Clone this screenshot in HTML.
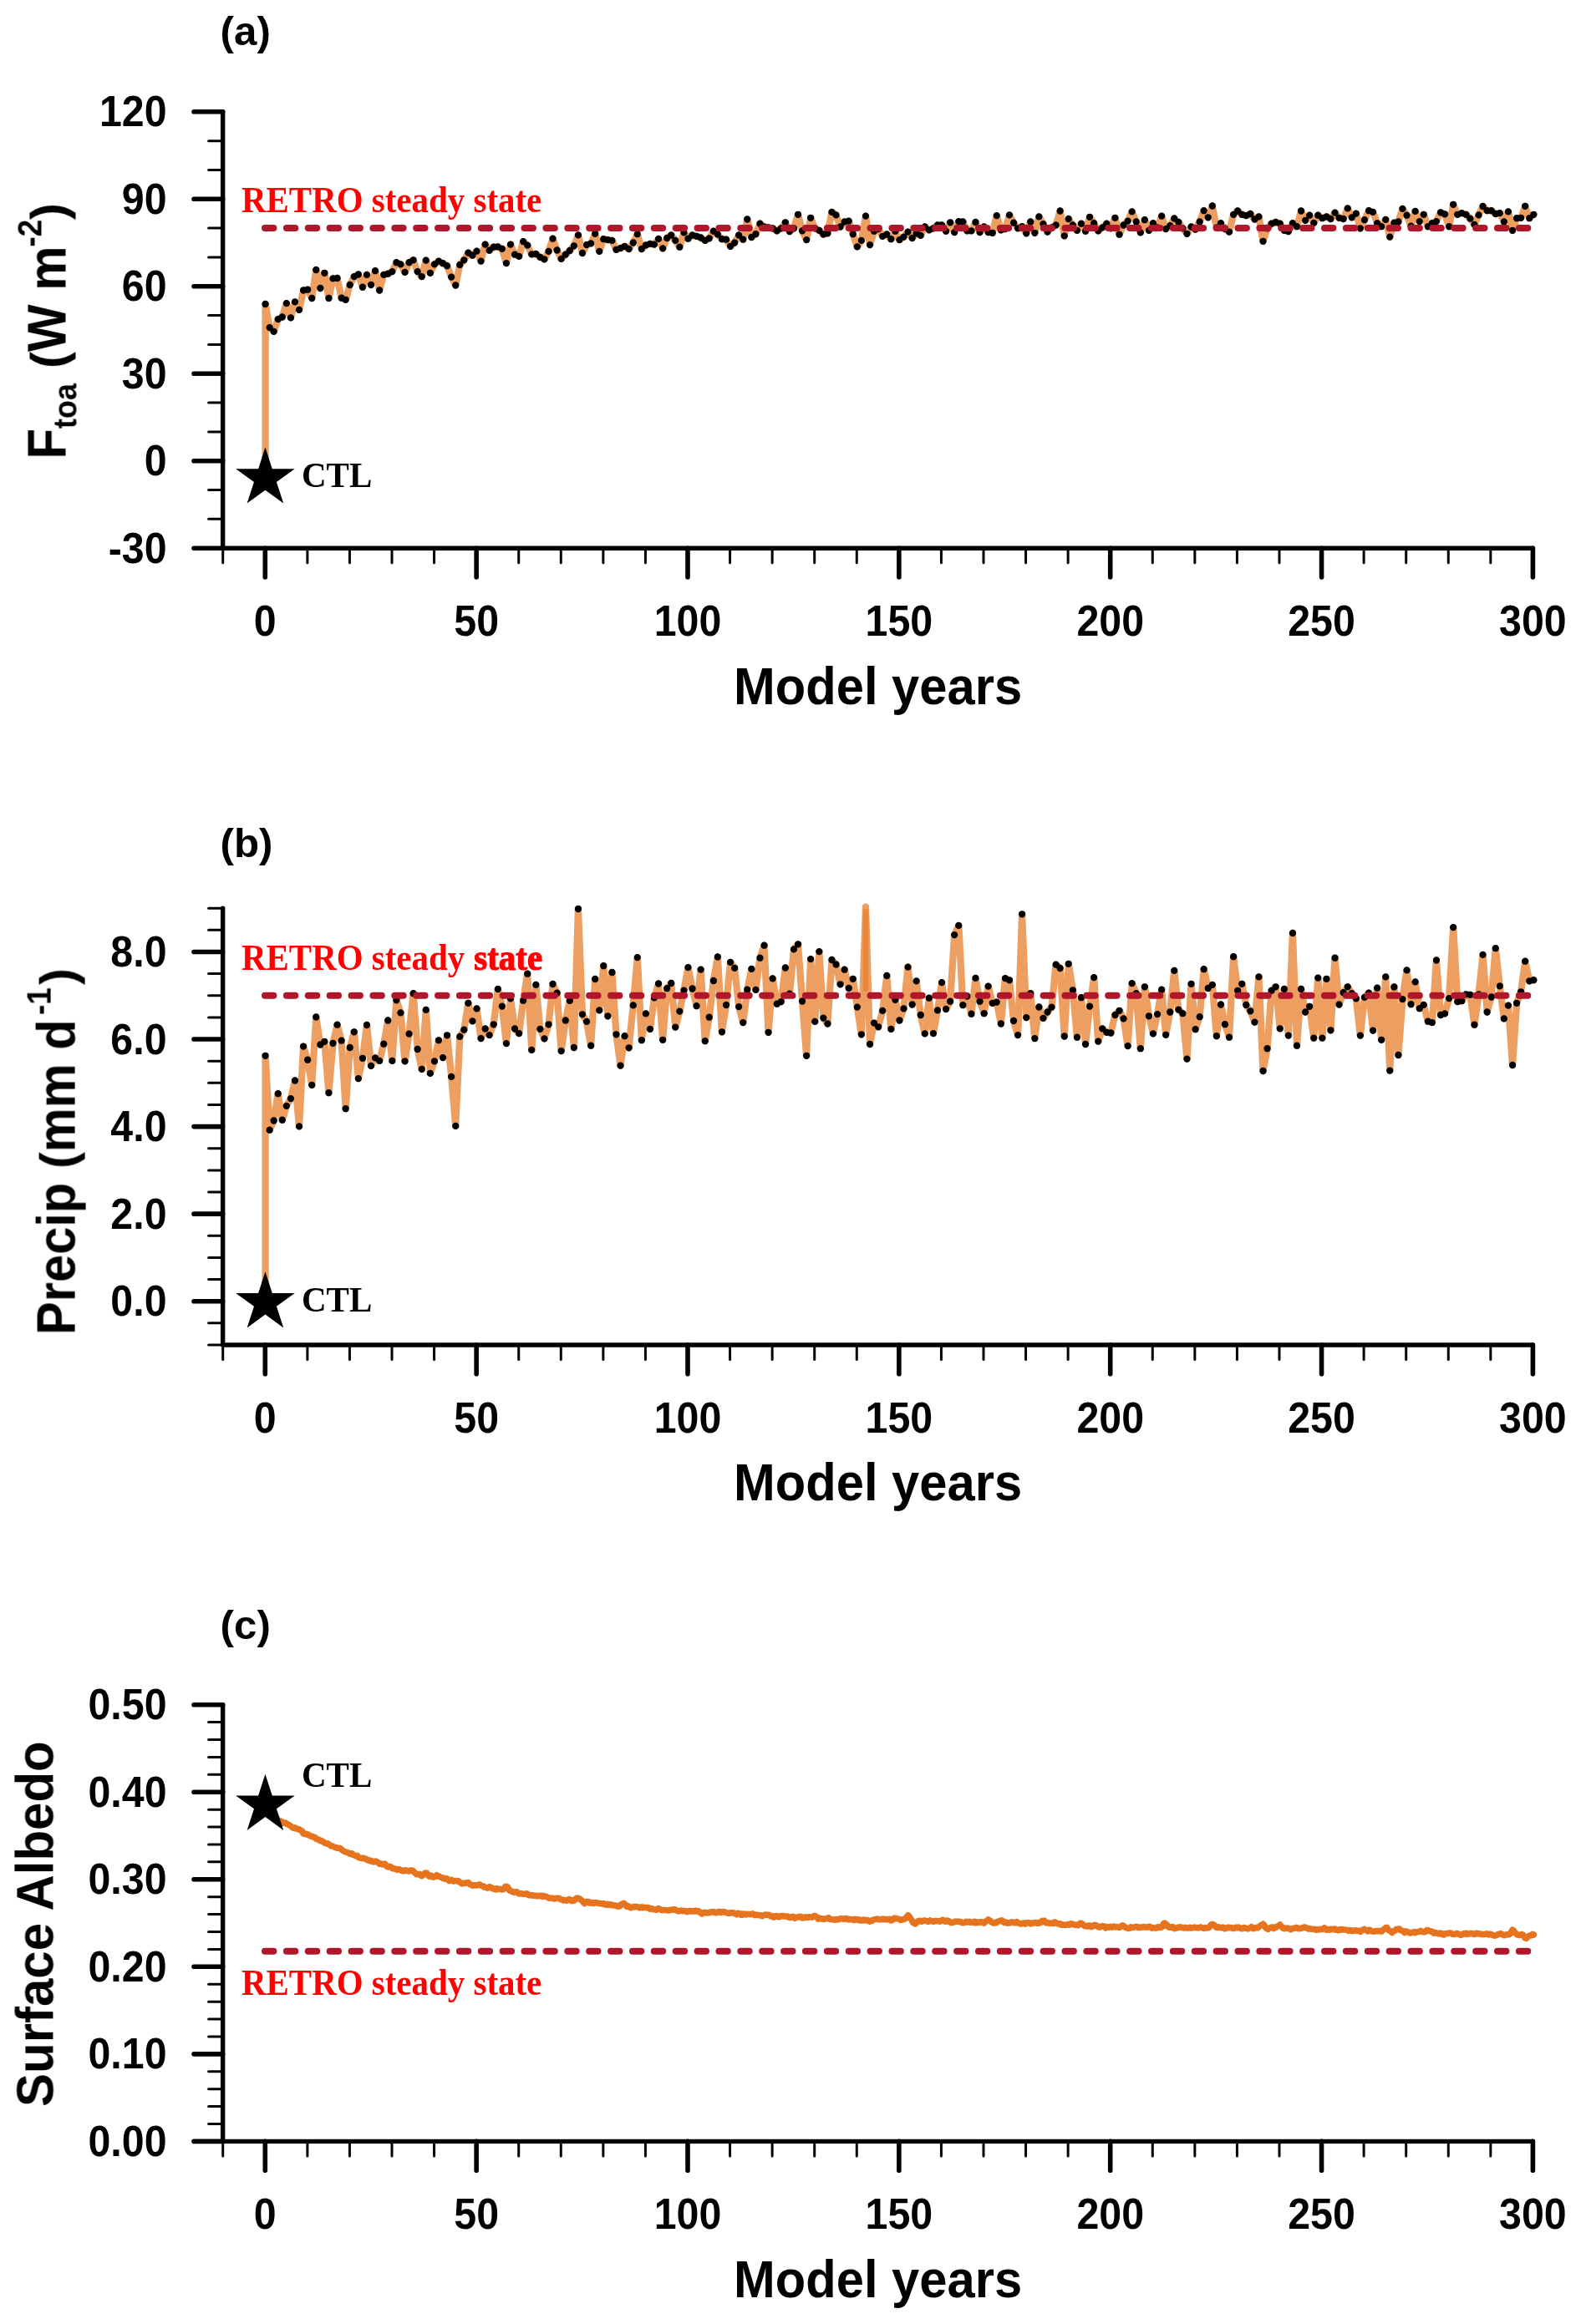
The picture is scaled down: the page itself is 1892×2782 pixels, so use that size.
<!DOCTYPE html>
<html><head><meta charset="utf-8"><title>Figure</title>
<style>html,body{margin:0;padding:0;background:#fff;overflow:hidden}svg{display:block}</style></head>
<body><svg width="1892" height="2782" viewBox="0 0 1892 2782">
<rect width="1892" height="2782" fill="#fff"/>
<g opacity="0.999">
<polyline points="317.6,572.6 317.6,364.0 322.6,392.1 327.7,396.8 332.7,382.1 337.8,379.5 342.8,363.1 347.9,380.4 353.0,361.4 358.0,370.9 363.1,347.5 368.1,346.7 373.2,357.0 378.3,323.0 383.3,345.0 388.4,326.8 393.4,357.0 398.5,333.4 403.6,333.0 408.6,356.7 413.7,358.8 418.7,341.0 423.8,331.1 428.9,328.5 433.9,343.7 439.0,328.9 444.0,341.0 449.1,324.2 454.1,347.5 459.2,328.9 464.3,327.7 469.3,325.1 474.4,314.2 479.4,316.4 484.5,325.9 489.6,314.2 494.6,311.3 499.7,325.1 504.7,331.1 509.8,311.6 514.9,326.8 519.9,316.4 525.0,312.6 530.0,315.2 535.1,318.2 540.2,331.6 545.2,341.5 550.3,317.0 555.3,311.3 560.4,302.6 565.5,305.7 570.5,300.6 575.6,312.6 580.6,292.6 585.7,299.7 590.7,295.7 595.8,295.4 600.9,297.8 605.9,315.1 611.0,292.6 616.0,304.7 621.1,306.9 626.2,289.1 631.2,293.6 636.3,304.4 641.3,304.0 646.4,307.8 651.5,310.4 656.5,300.9 661.6,285.7 666.6,299.5 671.7,309.9 676.8,304.7 681.8,300.0 686.9,294.3 691.9,281.4 697.0,303.0 702.0,293.1 707.1,291.4 712.2,279.8 717.2,300.9 722.3,286.2 727.3,287.1 732.4,287.9 737.5,298.8 742.5,297.1 747.6,294.9 752.6,298.0 757.7,290.5 762.8,280.2 767.8,298.0 772.9,293.5 777.9,291.9 783.0,292.6 788.1,285.9 793.1,297.4 798.2,285.0 803.2,281.5 808.3,287.9 813.4,295.7 818.4,278.4 823.5,285.7 828.5,281.5 833.6,282.8 838.6,284.5 843.7,287.9 848.8,285.3 853.8,276.7 858.9,280.5 863.9,286.2 869.0,286.7 874.1,294.9 879.1,290.5 884.2,281.5 889.2,286.7 894.3,262.5 899.4,284.0 904.4,280.2 909.5,267.7 914.5,271.5 919.6,272.4 924.7,273.3 929.7,276.4 934.8,273.3 939.8,266.3 944.9,277.1 950.0,273.3 955.0,256.8 960.1,276.4 965.1,287.1 970.2,260.8 975.2,273.3 980.3,275.8 985.4,280.5 990.4,279.3 995.5,253.9 1000.5,257.4 1005.6,271.5 1010.7,265.5 1015.7,264.6 1020.8,280.2 1025.8,295.4 1030.9,287.9 1036.0,258.6 1041.0,293.1 1046.1,276.7 1051.1,274.1 1056.2,282.8 1061.3,280.5 1066.3,286.2 1071.4,276.7 1076.4,287.1 1081.5,283.6 1086.5,277.6 1091.6,285.0 1096.7,279.3 1101.7,281.9 1106.8,271.5 1111.8,275.3 1116.9,273.3 1122.0,269.5 1127.0,269.5 1132.1,276.7 1137.1,266.3 1142.2,278.1 1147.3,265.1 1152.3,265.5 1157.4,276.4 1162.4,276.4 1167.5,266.0 1172.6,278.1 1177.6,271.5 1182.7,278.1 1187.7,278.8 1192.8,258.1 1197.9,275.3 1202.9,274.1 1208.0,257.4 1213.0,266.7 1218.1,273.3 1223.1,271.2 1228.2,279.3 1233.3,265.5 1238.3,278.8 1243.4,259.4 1248.4,268.1 1253.5,277.6 1258.6,272.4 1263.6,269.5 1268.7,252.5 1273.7,282.4 1278.8,262.0 1283.9,269.5 1288.9,275.8 1294.0,267.7 1299.0,276.7 1304.1,259.8 1309.2,267.2 1314.2,276.4 1319.3,272.4 1324.3,267.7 1329.4,273.3 1334.4,260.8 1339.5,280.7 1344.6,269.5 1349.6,264.6 1354.7,253.4 1359.7,265.5 1364.8,278.4 1369.9,263.2 1374.9,275.8 1380.0,267.2 1385.0,272.4 1390.1,258.6 1395.2,274.1 1400.2,270.1 1405.3,261.5 1410.3,266.0 1415.4,273.3 1420.5,279.8 1425.5,271.5 1430.6,274.6 1435.6,265.5 1440.7,252.2 1445.8,260.3 1450.8,246.5 1455.9,272.4 1460.9,267.2 1466.0,274.1 1471.0,277.6 1476.1,256.8 1481.2,252.5 1486.2,256.8 1491.3,258.1 1496.3,256.0 1501.4,262.5 1506.5,259.4 1511.5,288.8 1516.6,273.3 1521.6,267.7 1526.7,266.0 1531.8,267.7 1536.8,275.8 1541.9,277.1 1546.9,267.2 1552.0,271.2 1557.1,252.5 1562.1,263.8 1567.2,257.7 1572.2,266.9 1577.3,257.7 1582.3,261.2 1587.4,259.4 1592.5,262.0 1597.5,254.6 1602.6,260.8 1607.6,262.0 1612.7,249.4 1617.8,260.3 1622.8,255.6 1627.9,273.3 1632.9,263.2 1638.0,252.2 1643.1,253.9 1648.1,267.2 1653.2,271.2 1658.2,262.9 1663.3,283.6 1668.4,266.7 1673.4,265.5 1678.5,249.9 1683.5,257.7 1688.6,270.7 1693.7,252.9 1698.7,265.1 1703.8,256.8 1708.8,271.2 1713.9,267.2 1718.9,265.1 1724.0,254.3 1729.1,256.3 1734.1,271.2 1739.2,244.8 1744.2,256.8 1749.3,255.1 1754.4,256.8 1759.4,261.7 1764.5,268.9 1769.5,257.4 1774.6,247.0 1779.7,252.2 1784.7,252.2 1789.8,256.0 1794.8,255.1 1799.9,265.5 1805.0,253.4 1810.0,275.8 1815.1,261.2 1820.1,260.8 1825.2,246.8 1830.3,261.2 1835.3,256.8" fill="none" stroke="#ed9f61" stroke-width="8.3" stroke-linejoin="round" stroke-linecap="round"/>
<path d="M313.4,364.0a4.15,4.15 0 1,0 8.3,0a4.15,4.15 0 1,0 -8.3,0M318.5,392.1a4.15,4.15 0 1,0 8.3,0a4.15,4.15 0 1,0 -8.3,0M323.5,396.8a4.15,4.15 0 1,0 8.3,0a4.15,4.15 0 1,0 -8.3,0M328.6,382.1a4.15,4.15 0 1,0 8.3,0a4.15,4.15 0 1,0 -8.3,0M333.6,379.5a4.15,4.15 0 1,0 8.3,0a4.15,4.15 0 1,0 -8.3,0M338.7,363.1a4.15,4.15 0 1,0 8.3,0a4.15,4.15 0 1,0 -8.3,0M343.8,380.4a4.15,4.15 0 1,0 8.3,0a4.15,4.15 0 1,0 -8.3,0M348.8,361.4a4.15,4.15 0 1,0 8.3,0a4.15,4.15 0 1,0 -8.3,0M353.9,370.9a4.15,4.15 0 1,0 8.3,0a4.15,4.15 0 1,0 -8.3,0M358.9,347.5a4.15,4.15 0 1,0 8.3,0a4.15,4.15 0 1,0 -8.3,0M364.0,346.7a4.15,4.15 0 1,0 8.3,0a4.15,4.15 0 1,0 -8.3,0M369.1,357.0a4.15,4.15 0 1,0 8.3,0a4.15,4.15 0 1,0 -8.3,0M374.1,323.0a4.15,4.15 0 1,0 8.3,0a4.15,4.15 0 1,0 -8.3,0M379.2,345.0a4.15,4.15 0 1,0 8.3,0a4.15,4.15 0 1,0 -8.3,0M384.2,326.8a4.15,4.15 0 1,0 8.3,0a4.15,4.15 0 1,0 -8.3,0M389.3,357.0a4.15,4.15 0 1,0 8.3,0a4.15,4.15 0 1,0 -8.3,0M394.3,333.4a4.15,4.15 0 1,0 8.3,0a4.15,4.15 0 1,0 -8.3,0M399.4,333.0a4.15,4.15 0 1,0 8.3,0a4.15,4.15 0 1,0 -8.3,0M404.5,356.7a4.15,4.15 0 1,0 8.3,0a4.15,4.15 0 1,0 -8.3,0M409.5,358.8a4.15,4.15 0 1,0 8.3,0a4.15,4.15 0 1,0 -8.3,0M414.6,341.0a4.15,4.15 0 1,0 8.3,0a4.15,4.15 0 1,0 -8.3,0M419.6,331.1a4.15,4.15 0 1,0 8.3,0a4.15,4.15 0 1,0 -8.3,0M424.7,328.5a4.15,4.15 0 1,0 8.3,0a4.15,4.15 0 1,0 -8.3,0M429.8,343.7a4.15,4.15 0 1,0 8.3,0a4.15,4.15 0 1,0 -8.3,0M434.8,328.9a4.15,4.15 0 1,0 8.3,0a4.15,4.15 0 1,0 -8.3,0M439.9,341.0a4.15,4.15 0 1,0 8.3,0a4.15,4.15 0 1,0 -8.3,0M444.9,324.2a4.15,4.15 0 1,0 8.3,0a4.15,4.15 0 1,0 -8.3,0M450.0,347.5a4.15,4.15 0 1,0 8.3,0a4.15,4.15 0 1,0 -8.3,0M455.1,328.9a4.15,4.15 0 1,0 8.3,0a4.15,4.15 0 1,0 -8.3,0M460.1,327.7a4.15,4.15 0 1,0 8.3,0a4.15,4.15 0 1,0 -8.3,0M465.2,325.1a4.15,4.15 0 1,0 8.3,0a4.15,4.15 0 1,0 -8.3,0M470.2,314.2a4.15,4.15 0 1,0 8.3,0a4.15,4.15 0 1,0 -8.3,0M475.3,316.4a4.15,4.15 0 1,0 8.3,0a4.15,4.15 0 1,0 -8.3,0M480.4,325.9a4.15,4.15 0 1,0 8.3,0a4.15,4.15 0 1,0 -8.3,0M485.4,314.2a4.15,4.15 0 1,0 8.3,0a4.15,4.15 0 1,0 -8.3,0M490.5,311.3a4.15,4.15 0 1,0 8.3,0a4.15,4.15 0 1,0 -8.3,0M495.5,325.1a4.15,4.15 0 1,0 8.3,0a4.15,4.15 0 1,0 -8.3,0M500.6,331.1a4.15,4.15 0 1,0 8.3,0a4.15,4.15 0 1,0 -8.3,0M505.6,311.6a4.15,4.15 0 1,0 8.3,0a4.15,4.15 0 1,0 -8.3,0M510.7,326.8a4.15,4.15 0 1,0 8.3,0a4.15,4.15 0 1,0 -8.3,0M515.8,316.4a4.15,4.15 0 1,0 8.3,0a4.15,4.15 0 1,0 -8.3,0M520.8,312.6a4.15,4.15 0 1,0 8.3,0a4.15,4.15 0 1,0 -8.3,0M525.9,315.2a4.15,4.15 0 1,0 8.3,0a4.15,4.15 0 1,0 -8.3,0M530.9,318.2a4.15,4.15 0 1,0 8.3,0a4.15,4.15 0 1,0 -8.3,0M536.0,331.6a4.15,4.15 0 1,0 8.3,0a4.15,4.15 0 1,0 -8.3,0M541.1,341.5a4.15,4.15 0 1,0 8.3,0a4.15,4.15 0 1,0 -8.3,0M546.1,317.0a4.15,4.15 0 1,0 8.3,0a4.15,4.15 0 1,0 -8.3,0M551.2,311.3a4.15,4.15 0 1,0 8.3,0a4.15,4.15 0 1,0 -8.3,0M556.2,302.6a4.15,4.15 0 1,0 8.3,0a4.15,4.15 0 1,0 -8.3,0M561.3,305.7a4.15,4.15 0 1,0 8.3,0a4.15,4.15 0 1,0 -8.3,0M566.4,300.6a4.15,4.15 0 1,0 8.3,0a4.15,4.15 0 1,0 -8.3,0M571.4,312.6a4.15,4.15 0 1,0 8.3,0a4.15,4.15 0 1,0 -8.3,0M576.5,292.6a4.15,4.15 0 1,0 8.3,0a4.15,4.15 0 1,0 -8.3,0M581.5,299.7a4.15,4.15 0 1,0 8.3,0a4.15,4.15 0 1,0 -8.3,0M586.6,295.7a4.15,4.15 0 1,0 8.3,0a4.15,4.15 0 1,0 -8.3,0M591.7,295.4a4.15,4.15 0 1,0 8.3,0a4.15,4.15 0 1,0 -8.3,0M596.7,297.8a4.15,4.15 0 1,0 8.3,0a4.15,4.15 0 1,0 -8.3,0M601.8,315.1a4.15,4.15 0 1,0 8.3,0a4.15,4.15 0 1,0 -8.3,0M606.8,292.6a4.15,4.15 0 1,0 8.3,0a4.15,4.15 0 1,0 -8.3,0M611.9,304.7a4.15,4.15 0 1,0 8.3,0a4.15,4.15 0 1,0 -8.3,0M617.0,306.9a4.15,4.15 0 1,0 8.3,0a4.15,4.15 0 1,0 -8.3,0M622.0,289.1a4.15,4.15 0 1,0 8.3,0a4.15,4.15 0 1,0 -8.3,0M627.1,293.6a4.15,4.15 0 1,0 8.3,0a4.15,4.15 0 1,0 -8.3,0M632.1,304.4a4.15,4.15 0 1,0 8.3,0a4.15,4.15 0 1,0 -8.3,0M637.2,304.0a4.15,4.15 0 1,0 8.3,0a4.15,4.15 0 1,0 -8.3,0M642.2,307.8a4.15,4.15 0 1,0 8.3,0a4.15,4.15 0 1,0 -8.3,0M647.3,310.4a4.15,4.15 0 1,0 8.3,0a4.15,4.15 0 1,0 -8.3,0M652.4,300.9a4.15,4.15 0 1,0 8.3,0a4.15,4.15 0 1,0 -8.3,0M657.4,285.7a4.15,4.15 0 1,0 8.3,0a4.15,4.15 0 1,0 -8.3,0M662.5,299.5a4.15,4.15 0 1,0 8.3,0a4.15,4.15 0 1,0 -8.3,0M667.5,309.9a4.15,4.15 0 1,0 8.3,0a4.15,4.15 0 1,0 -8.3,0M672.6,304.7a4.15,4.15 0 1,0 8.3,0a4.15,4.15 0 1,0 -8.3,0M677.7,300.0a4.15,4.15 0 1,0 8.3,0a4.15,4.15 0 1,0 -8.3,0M682.7,294.3a4.15,4.15 0 1,0 8.3,0a4.15,4.15 0 1,0 -8.3,0M687.8,281.4a4.15,4.15 0 1,0 8.3,0a4.15,4.15 0 1,0 -8.3,0M692.8,303.0a4.15,4.15 0 1,0 8.3,0a4.15,4.15 0 1,0 -8.3,0M697.9,293.1a4.15,4.15 0 1,0 8.3,0a4.15,4.15 0 1,0 -8.3,0M703.0,291.4a4.15,4.15 0 1,0 8.3,0a4.15,4.15 0 1,0 -8.3,0M708.0,279.8a4.15,4.15 0 1,0 8.3,0a4.15,4.15 0 1,0 -8.3,0M713.1,300.9a4.15,4.15 0 1,0 8.3,0a4.15,4.15 0 1,0 -8.3,0M718.1,286.2a4.15,4.15 0 1,0 8.3,0a4.15,4.15 0 1,0 -8.3,0M723.2,287.1a4.15,4.15 0 1,0 8.3,0a4.15,4.15 0 1,0 -8.3,0M728.3,287.9a4.15,4.15 0 1,0 8.3,0a4.15,4.15 0 1,0 -8.3,0M733.3,298.8a4.15,4.15 0 1,0 8.3,0a4.15,4.15 0 1,0 -8.3,0M738.4,297.1a4.15,4.15 0 1,0 8.3,0a4.15,4.15 0 1,0 -8.3,0M743.4,294.9a4.15,4.15 0 1,0 8.3,0a4.15,4.15 0 1,0 -8.3,0M748.5,298.0a4.15,4.15 0 1,0 8.3,0a4.15,4.15 0 1,0 -8.3,0M753.6,290.5a4.15,4.15 0 1,0 8.3,0a4.15,4.15 0 1,0 -8.3,0M758.6,280.2a4.15,4.15 0 1,0 8.3,0a4.15,4.15 0 1,0 -8.3,0M763.7,298.0a4.15,4.15 0 1,0 8.3,0a4.15,4.15 0 1,0 -8.3,0M768.7,293.5a4.15,4.15 0 1,0 8.3,0a4.15,4.15 0 1,0 -8.3,0M773.8,291.9a4.15,4.15 0 1,0 8.3,0a4.15,4.15 0 1,0 -8.3,0M778.8,292.6a4.15,4.15 0 1,0 8.3,0a4.15,4.15 0 1,0 -8.3,0M783.9,285.9a4.15,4.15 0 1,0 8.3,0a4.15,4.15 0 1,0 -8.3,0M789.0,297.4a4.15,4.15 0 1,0 8.3,0a4.15,4.15 0 1,0 -8.3,0M794.0,285.0a4.15,4.15 0 1,0 8.3,0a4.15,4.15 0 1,0 -8.3,0M799.1,281.5a4.15,4.15 0 1,0 8.3,0a4.15,4.15 0 1,0 -8.3,0M804.1,287.9a4.15,4.15 0 1,0 8.3,0a4.15,4.15 0 1,0 -8.3,0M809.2,295.7a4.15,4.15 0 1,0 8.3,0a4.15,4.15 0 1,0 -8.3,0M814.3,278.4a4.15,4.15 0 1,0 8.3,0a4.15,4.15 0 1,0 -8.3,0M819.3,285.7a4.15,4.15 0 1,0 8.3,0a4.15,4.15 0 1,0 -8.3,0M824.4,281.5a4.15,4.15 0 1,0 8.3,0a4.15,4.15 0 1,0 -8.3,0M829.4,282.8a4.15,4.15 0 1,0 8.3,0a4.15,4.15 0 1,0 -8.3,0M834.5,284.5a4.15,4.15 0 1,0 8.3,0a4.15,4.15 0 1,0 -8.3,0M839.6,287.9a4.15,4.15 0 1,0 8.3,0a4.15,4.15 0 1,0 -8.3,0M844.6,285.3a4.15,4.15 0 1,0 8.3,0a4.15,4.15 0 1,0 -8.3,0M849.7,276.7a4.15,4.15 0 1,0 8.3,0a4.15,4.15 0 1,0 -8.3,0M854.7,280.5a4.15,4.15 0 1,0 8.3,0a4.15,4.15 0 1,0 -8.3,0M859.8,286.2a4.15,4.15 0 1,0 8.3,0a4.15,4.15 0 1,0 -8.3,0M864.9,286.7a4.15,4.15 0 1,0 8.3,0a4.15,4.15 0 1,0 -8.3,0M869.9,294.9a4.15,4.15 0 1,0 8.3,0a4.15,4.15 0 1,0 -8.3,0M875.0,290.5a4.15,4.15 0 1,0 8.3,0a4.15,4.15 0 1,0 -8.3,0M880.0,281.5a4.15,4.15 0 1,0 8.3,0a4.15,4.15 0 1,0 -8.3,0M885.1,286.7a4.15,4.15 0 1,0 8.3,0a4.15,4.15 0 1,0 -8.3,0M890.1,262.5a4.15,4.15 0 1,0 8.3,0a4.15,4.15 0 1,0 -8.3,0M895.2,284.0a4.15,4.15 0 1,0 8.3,0a4.15,4.15 0 1,0 -8.3,0M900.3,280.2a4.15,4.15 0 1,0 8.3,0a4.15,4.15 0 1,0 -8.3,0M905.3,267.7a4.15,4.15 0 1,0 8.3,0a4.15,4.15 0 1,0 -8.3,0M910.4,271.5a4.15,4.15 0 1,0 8.3,0a4.15,4.15 0 1,0 -8.3,0M915.4,272.4a4.15,4.15 0 1,0 8.3,0a4.15,4.15 0 1,0 -8.3,0M920.5,273.3a4.15,4.15 0 1,0 8.3,0a4.15,4.15 0 1,0 -8.3,0M925.6,276.4a4.15,4.15 0 1,0 8.3,0a4.15,4.15 0 1,0 -8.3,0M930.6,273.3a4.15,4.15 0 1,0 8.3,0a4.15,4.15 0 1,0 -8.3,0M935.7,266.3a4.15,4.15 0 1,0 8.3,0a4.15,4.15 0 1,0 -8.3,0M940.7,277.1a4.15,4.15 0 1,0 8.3,0a4.15,4.15 0 1,0 -8.3,0M945.8,273.3a4.15,4.15 0 1,0 8.3,0a4.15,4.15 0 1,0 -8.3,0M950.9,256.8a4.15,4.15 0 1,0 8.3,0a4.15,4.15 0 1,0 -8.3,0M955.9,276.4a4.15,4.15 0 1,0 8.3,0a4.15,4.15 0 1,0 -8.3,0M961.0,287.1a4.15,4.15 0 1,0 8.3,0a4.15,4.15 0 1,0 -8.3,0M966.0,260.8a4.15,4.15 0 1,0 8.3,0a4.15,4.15 0 1,0 -8.3,0M971.1,273.3a4.15,4.15 0 1,0 8.3,0a4.15,4.15 0 1,0 -8.3,0M976.2,275.8a4.15,4.15 0 1,0 8.3,0a4.15,4.15 0 1,0 -8.3,0M981.2,280.5a4.15,4.15 0 1,0 8.3,0a4.15,4.15 0 1,0 -8.3,0M986.3,279.3a4.15,4.15 0 1,0 8.3,0a4.15,4.15 0 1,0 -8.3,0M991.3,253.9a4.15,4.15 0 1,0 8.3,0a4.15,4.15 0 1,0 -8.3,0M996.4,257.4a4.15,4.15 0 1,0 8.3,0a4.15,4.15 0 1,0 -8.3,0M1001.5,271.5a4.15,4.15 0 1,0 8.3,0a4.15,4.15 0 1,0 -8.3,0M1006.5,265.5a4.15,4.15 0 1,0 8.3,0a4.15,4.15 0 1,0 -8.3,0M1011.6,264.6a4.15,4.15 0 1,0 8.3,0a4.15,4.15 0 1,0 -8.3,0M1016.6,280.2a4.15,4.15 0 1,0 8.3,0a4.15,4.15 0 1,0 -8.3,0M1021.7,295.4a4.15,4.15 0 1,0 8.3,0a4.15,4.15 0 1,0 -8.3,0M1026.7,287.9a4.15,4.15 0 1,0 8.3,0a4.15,4.15 0 1,0 -8.3,0M1031.8,258.6a4.15,4.15 0 1,0 8.3,0a4.15,4.15 0 1,0 -8.3,0M1036.9,293.1a4.15,4.15 0 1,0 8.3,0a4.15,4.15 0 1,0 -8.3,0M1041.9,276.7a4.15,4.15 0 1,0 8.3,0a4.15,4.15 0 1,0 -8.3,0M1047.0,274.1a4.15,4.15 0 1,0 8.3,0a4.15,4.15 0 1,0 -8.3,0M1052.0,282.8a4.15,4.15 0 1,0 8.3,0a4.15,4.15 0 1,0 -8.3,0M1057.1,280.5a4.15,4.15 0 1,0 8.3,0a4.15,4.15 0 1,0 -8.3,0M1062.2,286.2a4.15,4.15 0 1,0 8.3,0a4.15,4.15 0 1,0 -8.3,0M1067.2,276.7a4.15,4.15 0 1,0 8.3,0a4.15,4.15 0 1,0 -8.3,0M1072.3,287.1a4.15,4.15 0 1,0 8.3,0a4.15,4.15 0 1,0 -8.3,0M1077.3,283.6a4.15,4.15 0 1,0 8.3,0a4.15,4.15 0 1,0 -8.3,0M1082.4,277.6a4.15,4.15 0 1,0 8.3,0a4.15,4.15 0 1,0 -8.3,0M1087.5,285.0a4.15,4.15 0 1,0 8.3,0a4.15,4.15 0 1,0 -8.3,0M1092.5,279.3a4.15,4.15 0 1,0 8.3,0a4.15,4.15 0 1,0 -8.3,0M1097.6,281.9a4.15,4.15 0 1,0 8.3,0a4.15,4.15 0 1,0 -8.3,0M1102.6,271.5a4.15,4.15 0 1,0 8.3,0a4.15,4.15 0 1,0 -8.3,0M1107.7,275.3a4.15,4.15 0 1,0 8.3,0a4.15,4.15 0 1,0 -8.3,0M1112.8,273.3a4.15,4.15 0 1,0 8.3,0a4.15,4.15 0 1,0 -8.3,0M1117.8,269.5a4.15,4.15 0 1,0 8.3,0a4.15,4.15 0 1,0 -8.3,0M1122.9,269.5a4.15,4.15 0 1,0 8.3,0a4.15,4.15 0 1,0 -8.3,0M1127.9,276.7a4.15,4.15 0 1,0 8.3,0a4.15,4.15 0 1,0 -8.3,0M1133.0,266.3a4.15,4.15 0 1,0 8.3,0a4.15,4.15 0 1,0 -8.3,0M1138.0,278.1a4.15,4.15 0 1,0 8.3,0a4.15,4.15 0 1,0 -8.3,0M1143.1,265.1a4.15,4.15 0 1,0 8.3,0a4.15,4.15 0 1,0 -8.3,0M1148.2,265.5a4.15,4.15 0 1,0 8.3,0a4.15,4.15 0 1,0 -8.3,0M1153.2,276.4a4.15,4.15 0 1,0 8.3,0a4.15,4.15 0 1,0 -8.3,0M1158.3,276.4a4.15,4.15 0 1,0 8.3,0a4.15,4.15 0 1,0 -8.3,0M1163.3,266.0a4.15,4.15 0 1,0 8.3,0a4.15,4.15 0 1,0 -8.3,0M1168.4,278.1a4.15,4.15 0 1,0 8.3,0a4.15,4.15 0 1,0 -8.3,0M1173.5,271.5a4.15,4.15 0 1,0 8.3,0a4.15,4.15 0 1,0 -8.3,0M1178.5,278.1a4.15,4.15 0 1,0 8.3,0a4.15,4.15 0 1,0 -8.3,0M1183.6,278.8a4.15,4.15 0 1,0 8.3,0a4.15,4.15 0 1,0 -8.3,0M1188.6,258.1a4.15,4.15 0 1,0 8.3,0a4.15,4.15 0 1,0 -8.3,0M1193.7,275.3a4.15,4.15 0 1,0 8.3,0a4.15,4.15 0 1,0 -8.3,0M1198.8,274.1a4.15,4.15 0 1,0 8.3,0a4.15,4.15 0 1,0 -8.3,0M1203.8,257.4a4.15,4.15 0 1,0 8.3,0a4.15,4.15 0 1,0 -8.3,0M1208.9,266.7a4.15,4.15 0 1,0 8.3,0a4.15,4.15 0 1,0 -8.3,0M1213.9,273.3a4.15,4.15 0 1,0 8.3,0a4.15,4.15 0 1,0 -8.3,0M1219.0,271.2a4.15,4.15 0 1,0 8.3,0a4.15,4.15 0 1,0 -8.3,0M1224.1,279.3a4.15,4.15 0 1,0 8.3,0a4.15,4.15 0 1,0 -8.3,0M1229.1,265.5a4.15,4.15 0 1,0 8.3,0a4.15,4.15 0 1,0 -8.3,0M1234.2,278.8a4.15,4.15 0 1,0 8.3,0a4.15,4.15 0 1,0 -8.3,0M1239.2,259.4a4.15,4.15 0 1,0 8.3,0a4.15,4.15 0 1,0 -8.3,0M1244.3,268.1a4.15,4.15 0 1,0 8.3,0a4.15,4.15 0 1,0 -8.3,0M1249.4,277.6a4.15,4.15 0 1,0 8.3,0a4.15,4.15 0 1,0 -8.3,0M1254.4,272.4a4.15,4.15 0 1,0 8.3,0a4.15,4.15 0 1,0 -8.3,0M1259.5,269.5a4.15,4.15 0 1,0 8.3,0a4.15,4.15 0 1,0 -8.3,0M1264.5,252.5a4.15,4.15 0 1,0 8.3,0a4.15,4.15 0 1,0 -8.3,0M1269.6,282.4a4.15,4.15 0 1,0 8.3,0a4.15,4.15 0 1,0 -8.3,0M1274.6,262.0a4.15,4.15 0 1,0 8.3,0a4.15,4.15 0 1,0 -8.3,0M1279.7,269.5a4.15,4.15 0 1,0 8.3,0a4.15,4.15 0 1,0 -8.3,0M1284.8,275.8a4.15,4.15 0 1,0 8.3,0a4.15,4.15 0 1,0 -8.3,0M1289.8,267.7a4.15,4.15 0 1,0 8.3,0a4.15,4.15 0 1,0 -8.3,0M1294.9,276.7a4.15,4.15 0 1,0 8.3,0a4.15,4.15 0 1,0 -8.3,0M1299.9,259.8a4.15,4.15 0 1,0 8.3,0a4.15,4.15 0 1,0 -8.3,0M1305.0,267.2a4.15,4.15 0 1,0 8.3,0a4.15,4.15 0 1,0 -8.3,0M1310.1,276.4a4.15,4.15 0 1,0 8.3,0a4.15,4.15 0 1,0 -8.3,0M1315.1,272.4a4.15,4.15 0 1,0 8.3,0a4.15,4.15 0 1,0 -8.3,0M1320.2,267.7a4.15,4.15 0 1,0 8.3,0a4.15,4.15 0 1,0 -8.3,0M1325.2,273.3a4.15,4.15 0 1,0 8.3,0a4.15,4.15 0 1,0 -8.3,0M1330.3,260.8a4.15,4.15 0 1,0 8.3,0a4.15,4.15 0 1,0 -8.3,0M1335.4,280.7a4.15,4.15 0 1,0 8.3,0a4.15,4.15 0 1,0 -8.3,0M1340.4,269.5a4.15,4.15 0 1,0 8.3,0a4.15,4.15 0 1,0 -8.3,0M1345.5,264.6a4.15,4.15 0 1,0 8.3,0a4.15,4.15 0 1,0 -8.3,0M1350.5,253.4a4.15,4.15 0 1,0 8.3,0a4.15,4.15 0 1,0 -8.3,0M1355.6,265.5a4.15,4.15 0 1,0 8.3,0a4.15,4.15 0 1,0 -8.3,0M1360.7,278.4a4.15,4.15 0 1,0 8.3,0a4.15,4.15 0 1,0 -8.3,0M1365.7,263.2a4.15,4.15 0 1,0 8.3,0a4.15,4.15 0 1,0 -8.3,0M1370.8,275.8a4.15,4.15 0 1,0 8.3,0a4.15,4.15 0 1,0 -8.3,0M1375.8,267.2a4.15,4.15 0 1,0 8.3,0a4.15,4.15 0 1,0 -8.3,0M1380.9,272.4a4.15,4.15 0 1,0 8.3,0a4.15,4.15 0 1,0 -8.3,0M1386.0,258.6a4.15,4.15 0 1,0 8.3,0a4.15,4.15 0 1,0 -8.3,0M1391.0,274.1a4.15,4.15 0 1,0 8.3,0a4.15,4.15 0 1,0 -8.3,0M1396.1,270.1a4.15,4.15 0 1,0 8.3,0a4.15,4.15 0 1,0 -8.3,0M1401.1,261.5a4.15,4.15 0 1,0 8.3,0a4.15,4.15 0 1,0 -8.3,0M1406.2,266.0a4.15,4.15 0 1,0 8.3,0a4.15,4.15 0 1,0 -8.3,0M1411.2,273.3a4.15,4.15 0 1,0 8.3,0a4.15,4.15 0 1,0 -8.3,0M1416.3,279.8a4.15,4.15 0 1,0 8.3,0a4.15,4.15 0 1,0 -8.3,0M1421.4,271.5a4.15,4.15 0 1,0 8.3,0a4.15,4.15 0 1,0 -8.3,0M1426.4,274.6a4.15,4.15 0 1,0 8.3,0a4.15,4.15 0 1,0 -8.3,0M1431.5,265.5a4.15,4.15 0 1,0 8.3,0a4.15,4.15 0 1,0 -8.3,0M1436.5,252.2a4.15,4.15 0 1,0 8.3,0a4.15,4.15 0 1,0 -8.3,0M1441.6,260.3a4.15,4.15 0 1,0 8.3,0a4.15,4.15 0 1,0 -8.3,0M1446.7,246.5a4.15,4.15 0 1,0 8.3,0a4.15,4.15 0 1,0 -8.3,0M1451.7,272.4a4.15,4.15 0 1,0 8.3,0a4.15,4.15 0 1,0 -8.3,0M1456.8,267.2a4.15,4.15 0 1,0 8.3,0a4.15,4.15 0 1,0 -8.3,0M1461.8,274.1a4.15,4.15 0 1,0 8.3,0a4.15,4.15 0 1,0 -8.3,0M1466.9,277.6a4.15,4.15 0 1,0 8.3,0a4.15,4.15 0 1,0 -8.3,0M1472.0,256.8a4.15,4.15 0 1,0 8.3,0a4.15,4.15 0 1,0 -8.3,0M1477.0,252.5a4.15,4.15 0 1,0 8.3,0a4.15,4.15 0 1,0 -8.3,0M1482.1,256.8a4.15,4.15 0 1,0 8.3,0a4.15,4.15 0 1,0 -8.3,0M1487.1,258.1a4.15,4.15 0 1,0 8.3,0a4.15,4.15 0 1,0 -8.3,0M1492.2,256.0a4.15,4.15 0 1,0 8.3,0a4.15,4.15 0 1,0 -8.3,0M1497.3,262.5a4.15,4.15 0 1,0 8.3,0a4.15,4.15 0 1,0 -8.3,0M1502.3,259.4a4.15,4.15 0 1,0 8.3,0a4.15,4.15 0 1,0 -8.3,0M1507.4,288.8a4.15,4.15 0 1,0 8.3,0a4.15,4.15 0 1,0 -8.3,0M1512.4,273.3a4.15,4.15 0 1,0 8.3,0a4.15,4.15 0 1,0 -8.3,0M1517.5,267.7a4.15,4.15 0 1,0 8.3,0a4.15,4.15 0 1,0 -8.3,0M1522.5,266.0a4.15,4.15 0 1,0 8.3,0a4.15,4.15 0 1,0 -8.3,0M1527.6,267.7a4.15,4.15 0 1,0 8.3,0a4.15,4.15 0 1,0 -8.3,0M1532.7,275.8a4.15,4.15 0 1,0 8.3,0a4.15,4.15 0 1,0 -8.3,0M1537.7,277.1a4.15,4.15 0 1,0 8.3,0a4.15,4.15 0 1,0 -8.3,0M1542.8,267.2a4.15,4.15 0 1,0 8.3,0a4.15,4.15 0 1,0 -8.3,0M1547.8,271.2a4.15,4.15 0 1,0 8.3,0a4.15,4.15 0 1,0 -8.3,0M1552.9,252.5a4.15,4.15 0 1,0 8.3,0a4.15,4.15 0 1,0 -8.3,0M1558.0,263.8a4.15,4.15 0 1,0 8.3,0a4.15,4.15 0 1,0 -8.3,0M1563.0,257.7a4.15,4.15 0 1,0 8.3,0a4.15,4.15 0 1,0 -8.3,0M1568.1,266.9a4.15,4.15 0 1,0 8.3,0a4.15,4.15 0 1,0 -8.3,0M1573.1,257.7a4.15,4.15 0 1,0 8.3,0a4.15,4.15 0 1,0 -8.3,0M1578.2,261.2a4.15,4.15 0 1,0 8.3,0a4.15,4.15 0 1,0 -8.3,0M1583.3,259.4a4.15,4.15 0 1,0 8.3,0a4.15,4.15 0 1,0 -8.3,0M1588.3,262.0a4.15,4.15 0 1,0 8.3,0a4.15,4.15 0 1,0 -8.3,0M1593.4,254.6a4.15,4.15 0 1,0 8.3,0a4.15,4.15 0 1,0 -8.3,0M1598.4,260.8a4.15,4.15 0 1,0 8.3,0a4.15,4.15 0 1,0 -8.3,0M1603.5,262.0a4.15,4.15 0 1,0 8.3,0a4.15,4.15 0 1,0 -8.3,0M1608.6,249.4a4.15,4.15 0 1,0 8.3,0a4.15,4.15 0 1,0 -8.3,0M1613.6,260.3a4.15,4.15 0 1,0 8.3,0a4.15,4.15 0 1,0 -8.3,0M1618.7,255.6a4.15,4.15 0 1,0 8.3,0a4.15,4.15 0 1,0 -8.3,0M1623.7,273.3a4.15,4.15 0 1,0 8.3,0a4.15,4.15 0 1,0 -8.3,0M1628.8,263.2a4.15,4.15 0 1,0 8.3,0a4.15,4.15 0 1,0 -8.3,0M1633.9,252.2a4.15,4.15 0 1,0 8.3,0a4.15,4.15 0 1,0 -8.3,0M1638.9,253.9a4.15,4.15 0 1,0 8.3,0a4.15,4.15 0 1,0 -8.3,0M1644.0,267.2a4.15,4.15 0 1,0 8.3,0a4.15,4.15 0 1,0 -8.3,0M1649.0,271.2a4.15,4.15 0 1,0 8.3,0a4.15,4.15 0 1,0 -8.3,0M1654.1,262.9a4.15,4.15 0 1,0 8.3,0a4.15,4.15 0 1,0 -8.3,0M1659.1,283.6a4.15,4.15 0 1,0 8.3,0a4.15,4.15 0 1,0 -8.3,0M1664.2,266.7a4.15,4.15 0 1,0 8.3,0a4.15,4.15 0 1,0 -8.3,0M1669.3,265.5a4.15,4.15 0 1,0 8.3,0a4.15,4.15 0 1,0 -8.3,0M1674.3,249.9a4.15,4.15 0 1,0 8.3,0a4.15,4.15 0 1,0 -8.3,0M1679.4,257.7a4.15,4.15 0 1,0 8.3,0a4.15,4.15 0 1,0 -8.3,0M1684.4,270.7a4.15,4.15 0 1,0 8.3,0a4.15,4.15 0 1,0 -8.3,0M1689.5,252.9a4.15,4.15 0 1,0 8.3,0a4.15,4.15 0 1,0 -8.3,0M1694.6,265.1a4.15,4.15 0 1,0 8.3,0a4.15,4.15 0 1,0 -8.3,0M1699.6,256.8a4.15,4.15 0 1,0 8.3,0a4.15,4.15 0 1,0 -8.3,0M1704.7,271.2a4.15,4.15 0 1,0 8.3,0a4.15,4.15 0 1,0 -8.3,0M1709.7,267.2a4.15,4.15 0 1,0 8.3,0a4.15,4.15 0 1,0 -8.3,0M1714.8,265.1a4.15,4.15 0 1,0 8.3,0a4.15,4.15 0 1,0 -8.3,0M1719.9,254.3a4.15,4.15 0 1,0 8.3,0a4.15,4.15 0 1,0 -8.3,0M1724.9,256.3a4.15,4.15 0 1,0 8.3,0a4.15,4.15 0 1,0 -8.3,0M1730.0,271.2a4.15,4.15 0 1,0 8.3,0a4.15,4.15 0 1,0 -8.3,0M1735.0,244.8a4.15,4.15 0 1,0 8.3,0a4.15,4.15 0 1,0 -8.3,0M1740.1,256.8a4.15,4.15 0 1,0 8.3,0a4.15,4.15 0 1,0 -8.3,0M1745.2,255.1a4.15,4.15 0 1,0 8.3,0a4.15,4.15 0 1,0 -8.3,0M1750.2,256.8a4.15,4.15 0 1,0 8.3,0a4.15,4.15 0 1,0 -8.3,0M1755.3,261.7a4.15,4.15 0 1,0 8.3,0a4.15,4.15 0 1,0 -8.3,0M1760.3,268.9a4.15,4.15 0 1,0 8.3,0a4.15,4.15 0 1,0 -8.3,0M1765.4,257.4a4.15,4.15 0 1,0 8.3,0a4.15,4.15 0 1,0 -8.3,0M1770.4,247.0a4.15,4.15 0 1,0 8.3,0a4.15,4.15 0 1,0 -8.3,0M1775.5,252.2a4.15,4.15 0 1,0 8.3,0a4.15,4.15 0 1,0 -8.3,0M1780.6,252.2a4.15,4.15 0 1,0 8.3,0a4.15,4.15 0 1,0 -8.3,0M1785.6,256.0a4.15,4.15 0 1,0 8.3,0a4.15,4.15 0 1,0 -8.3,0M1790.7,255.1a4.15,4.15 0 1,0 8.3,0a4.15,4.15 0 1,0 -8.3,0M1795.7,265.5a4.15,4.15 0 1,0 8.3,0a4.15,4.15 0 1,0 -8.3,0M1800.8,253.4a4.15,4.15 0 1,0 8.3,0a4.15,4.15 0 1,0 -8.3,0M1805.9,275.8a4.15,4.15 0 1,0 8.3,0a4.15,4.15 0 1,0 -8.3,0M1810.9,261.2a4.15,4.15 0 1,0 8.3,0a4.15,4.15 0 1,0 -8.3,0M1816.0,260.8a4.15,4.15 0 1,0 8.3,0a4.15,4.15 0 1,0 -8.3,0M1821.0,246.8a4.15,4.15 0 1,0 8.3,0a4.15,4.15 0 1,0 -8.3,0M1826.1,261.2a4.15,4.15 0 1,0 8.3,0a4.15,4.15 0 1,0 -8.3,0M1831.2,256.8a4.15,4.15 0 1,0 8.3,0a4.15,4.15 0 1,0 -8.3,0" fill="#000"/>
<line x1="317.00" y1="273.11" x2="1832.00" y2="273.11" stroke="#b0172a" stroke-width="8" stroke-linecap="round" stroke-dasharray="10.4 15.477"/>
<line x1="266.65" y1="133.80" x2="266.65" y2="656.20" stroke="#000" stroke-width="5.4" stroke-linecap="round" />
<line x1="266.65" y1="656.20" x2="1834.40" y2="656.20" stroke="#000" stroke-width="5.4" stroke-linecap="round" />
<line x1="266.73" y1="656.20" x2="266.73" y2="673.80" stroke="#000" stroke-width="3.0" stroke-linecap="round" />
<line x1="317.30" y1="656.20" x2="317.30" y2="691.00" stroke="#000" stroke-width="5.6" stroke-linecap="round" />
<text transform="translate(317.30,761.10) scale(1,1.06)" font-family="Liberation Sans, sans-serif" font-weight="bold" font-size="48.3" text-anchor="middle" fill="#000" >0</text>
<line x1="367.87" y1="656.20" x2="367.87" y2="673.80" stroke="#000" stroke-width="3.0" stroke-linecap="round" />
<line x1="418.44" y1="656.20" x2="418.44" y2="673.80" stroke="#000" stroke-width="3.0" stroke-linecap="round" />
<line x1="469.01" y1="656.20" x2="469.01" y2="673.80" stroke="#000" stroke-width="3.0" stroke-linecap="round" />
<line x1="519.58" y1="656.20" x2="519.58" y2="673.80" stroke="#000" stroke-width="3.0" stroke-linecap="round" />
<line x1="570.15" y1="656.20" x2="570.15" y2="691.00" stroke="#000" stroke-width="5.6" stroke-linecap="round" />
<text transform="translate(570.15,761.10) scale(1,1.06)" font-family="Liberation Sans, sans-serif" font-weight="bold" font-size="48.3" text-anchor="middle" fill="#000" >50</text>
<line x1="620.72" y1="656.20" x2="620.72" y2="673.80" stroke="#000" stroke-width="3.0" stroke-linecap="round" />
<line x1="671.29" y1="656.20" x2="671.29" y2="673.80" stroke="#000" stroke-width="3.0" stroke-linecap="round" />
<line x1="721.86" y1="656.20" x2="721.86" y2="673.80" stroke="#000" stroke-width="3.0" stroke-linecap="round" />
<line x1="772.43" y1="656.20" x2="772.43" y2="673.80" stroke="#000" stroke-width="3.0" stroke-linecap="round" />
<line x1="823.00" y1="656.20" x2="823.00" y2="691.00" stroke="#000" stroke-width="5.6" stroke-linecap="round" />
<text transform="translate(823.00,761.10) scale(1,1.06)" font-family="Liberation Sans, sans-serif" font-weight="bold" font-size="48.3" text-anchor="middle" fill="#000" >100</text>
<line x1="873.57" y1="656.20" x2="873.57" y2="673.80" stroke="#000" stroke-width="3.0" stroke-linecap="round" />
<line x1="924.14" y1="656.20" x2="924.14" y2="673.80" stroke="#000" stroke-width="3.0" stroke-linecap="round" />
<line x1="974.71" y1="656.20" x2="974.71" y2="673.80" stroke="#000" stroke-width="3.0" stroke-linecap="round" />
<line x1="1025.28" y1="656.20" x2="1025.28" y2="673.80" stroke="#000" stroke-width="3.0" stroke-linecap="round" />
<line x1="1075.85" y1="656.20" x2="1075.85" y2="691.00" stroke="#000" stroke-width="5.6" stroke-linecap="round" />
<text transform="translate(1075.85,761.10) scale(1,1.06)" font-family="Liberation Sans, sans-serif" font-weight="bold" font-size="48.3" text-anchor="middle" fill="#000" >150</text>
<line x1="1126.42" y1="656.20" x2="1126.42" y2="673.80" stroke="#000" stroke-width="3.0" stroke-linecap="round" />
<line x1="1176.99" y1="656.20" x2="1176.99" y2="673.80" stroke="#000" stroke-width="3.0" stroke-linecap="round" />
<line x1="1227.56" y1="656.20" x2="1227.56" y2="673.80" stroke="#000" stroke-width="3.0" stroke-linecap="round" />
<line x1="1278.13" y1="656.20" x2="1278.13" y2="673.80" stroke="#000" stroke-width="3.0" stroke-linecap="round" />
<line x1="1328.70" y1="656.20" x2="1328.70" y2="691.00" stroke="#000" stroke-width="5.6" stroke-linecap="round" />
<text transform="translate(1328.70,761.10) scale(1,1.06)" font-family="Liberation Sans, sans-serif" font-weight="bold" font-size="48.3" text-anchor="middle" fill="#000" >200</text>
<line x1="1379.27" y1="656.20" x2="1379.27" y2="673.80" stroke="#000" stroke-width="3.0" stroke-linecap="round" />
<line x1="1429.84" y1="656.20" x2="1429.84" y2="673.80" stroke="#000" stroke-width="3.0" stroke-linecap="round" />
<line x1="1480.41" y1="656.20" x2="1480.41" y2="673.80" stroke="#000" stroke-width="3.0" stroke-linecap="round" />
<line x1="1530.98" y1="656.20" x2="1530.98" y2="673.80" stroke="#000" stroke-width="3.0" stroke-linecap="round" />
<line x1="1581.55" y1="656.20" x2="1581.55" y2="691.00" stroke="#000" stroke-width="5.6" stroke-linecap="round" />
<text transform="translate(1581.55,761.10) scale(1,1.06)" font-family="Liberation Sans, sans-serif" font-weight="bold" font-size="48.3" text-anchor="middle" fill="#000" >250</text>
<line x1="1632.12" y1="656.20" x2="1632.12" y2="673.80" stroke="#000" stroke-width="3.0" stroke-linecap="round" />
<line x1="1682.69" y1="656.20" x2="1682.69" y2="673.80" stroke="#000" stroke-width="3.0" stroke-linecap="round" />
<line x1="1733.26" y1="656.20" x2="1733.26" y2="673.80" stroke="#000" stroke-width="3.0" stroke-linecap="round" />
<line x1="1783.83" y1="656.20" x2="1783.83" y2="673.80" stroke="#000" stroke-width="3.0" stroke-linecap="round" />
<line x1="1834.40" y1="656.20" x2="1834.40" y2="691.00" stroke="#000" stroke-width="5.6" stroke-linecap="round" />
<text transform="translate(1834.40,761.10) scale(1,1.06)" font-family="Liberation Sans, sans-serif" font-weight="bold" font-size="48.3" text-anchor="middle" fill="#000" >300</text>
<line x1="232.00" y1="656.20" x2="266.65" y2="656.20" stroke="#000" stroke-width="5.6" stroke-linecap="round" />
<text transform="translate(199.50,673.80) scale(1,1.06)" font-family="Liberation Sans, sans-serif" font-weight="bold" font-size="48.3" text-anchor="end" fill="#000" >-30</text>
<line x1="249.60" y1="621.37" x2="266.65" y2="621.37" stroke="#000" stroke-width="3.0" stroke-linecap="round" />
<line x1="249.60" y1="586.55" x2="266.65" y2="586.55" stroke="#000" stroke-width="3.0" stroke-linecap="round" />
<line x1="232.00" y1="551.72" x2="266.65" y2="551.72" stroke="#000" stroke-width="5.6" stroke-linecap="round" />
<text transform="translate(199.50,569.32) scale(1,1.06)" font-family="Liberation Sans, sans-serif" font-weight="bold" font-size="48.3" text-anchor="end" fill="#000" >0</text>
<line x1="249.60" y1="516.89" x2="266.65" y2="516.89" stroke="#000" stroke-width="3.0" stroke-linecap="round" />
<line x1="249.60" y1="482.07" x2="266.65" y2="482.07" stroke="#000" stroke-width="3.0" stroke-linecap="round" />
<line x1="232.00" y1="447.24" x2="266.65" y2="447.24" stroke="#000" stroke-width="5.6" stroke-linecap="round" />
<text transform="translate(199.50,464.84) scale(1,1.06)" font-family="Liberation Sans, sans-serif" font-weight="bold" font-size="48.3" text-anchor="end" fill="#000" >30</text>
<line x1="249.60" y1="412.41" x2="266.65" y2="412.41" stroke="#000" stroke-width="3.0" stroke-linecap="round" />
<line x1="249.60" y1="377.59" x2="266.65" y2="377.59" stroke="#000" stroke-width="3.0" stroke-linecap="round" />
<line x1="232.00" y1="342.76" x2="266.65" y2="342.76" stroke="#000" stroke-width="5.6" stroke-linecap="round" />
<text transform="translate(199.50,360.36) scale(1,1.06)" font-family="Liberation Sans, sans-serif" font-weight="bold" font-size="48.3" text-anchor="end" fill="#000" >60</text>
<line x1="249.60" y1="307.93" x2="266.65" y2="307.93" stroke="#000" stroke-width="3.0" stroke-linecap="round" />
<line x1="249.60" y1="273.11" x2="266.65" y2="273.11" stroke="#000" stroke-width="3.0" stroke-linecap="round" />
<line x1="232.00" y1="238.28" x2="266.65" y2="238.28" stroke="#000" stroke-width="5.6" stroke-linecap="round" />
<text transform="translate(199.50,255.88) scale(1,1.06)" font-family="Liberation Sans, sans-serif" font-weight="bold" font-size="48.3" text-anchor="end" fill="#000" >90</text>
<line x1="249.60" y1="203.45" x2="266.65" y2="203.45" stroke="#000" stroke-width="3.0" stroke-linecap="round" />
<line x1="249.60" y1="168.63" x2="266.65" y2="168.63" stroke="#000" stroke-width="3.0" stroke-linecap="round" />
<line x1="232.00" y1="133.80" x2="266.65" y2="133.80" stroke="#000" stroke-width="5.6" stroke-linecap="round" />
<text transform="translate(199.50,151.40) scale(1,1.06)" font-family="Liberation Sans, sans-serif" font-weight="bold" font-size="48.3" text-anchor="end" fill="#000" >120</text>
<text transform="translate(1050.60,842.50) scale(1,1.055)" font-family="Liberation Sans, sans-serif" font-weight="bold" font-size="59.7" text-anchor="middle" fill="#000" >Model years</text>
<text transform="translate(263.60,54.30) scale(1,0.97)" font-family="Liberation Sans, sans-serif" font-weight="bold" font-size="49.3" text-anchor="start" fill="#000" >(a)</text>
<polygon points="317.45,535.50 325.78,561.14 352.73,561.14 330.93,576.98 339.26,602.61 317.45,586.77 295.64,602.61 303.97,576.98 282.17,561.14 309.12,561.14" fill="#000"/>
<polyline points="317.6,1559.4 317.6,1263.8 322.6,1352.7 327.7,1341.5 332.7,1309.2 337.8,1340.7 342.8,1323.9 347.9,1315.1 353.0,1293.5 358.0,1348.4 363.1,1252.6 368.1,1268.7 373.2,1298.9 378.3,1217.5 383.3,1250.5 388.4,1246.9 393.4,1308.2 398.5,1248.8 403.6,1226.7 408.6,1245.7 413.7,1327.2 418.7,1254.0 423.8,1235.3 428.9,1291.1 433.9,1266.8 439.0,1227.0 444.0,1275.9 449.1,1266.4 454.1,1269.9 459.2,1249.7 464.3,1221.5 469.3,1269.9 474.4,1197.3 479.4,1212.4 484.5,1270.4 489.6,1237.6 494.6,1189.2 499.7,1256.0 504.7,1279.9 509.8,1208.9 514.9,1284.9 519.9,1270.4 525.0,1245.3 530.0,1266.1 535.1,1239.3 540.2,1288.9 545.2,1347.9 550.3,1240.9 555.3,1232.7 560.4,1200.8 565.5,1222.4 570.5,1207.4 575.6,1243.1 580.6,1231.5 585.7,1239.1 590.7,1226.3 595.8,1184.0 600.9,1204.6 605.9,1249.1 611.0,1195.3 616.0,1231.5 621.1,1237.1 626.2,1197.7 631.2,1165.7 636.3,1256.9 641.3,1178.9 646.4,1231.9 651.5,1243.4 656.5,1226.3 661.6,1178.0 666.6,1188.7 671.7,1258.1 676.8,1221.5 681.8,1197.9 686.9,1254.0 691.9,1088.0 697.0,1214.3 702.0,1222.9 707.1,1251.7 712.2,1172.0 717.2,1209.4 722.3,1156.2 727.3,1216.3 732.4,1164.0 737.5,1238.3 742.5,1275.6 747.6,1240.2 752.6,1254.3 757.7,1203.4 762.8,1146.1 767.8,1245.2 772.9,1213.4 777.9,1231.9 783.0,1194.4 788.1,1177.5 793.1,1244.8 798.2,1183.2 803.2,1177.0 808.3,1229.6 813.4,1210.6 818.4,1185.6 823.5,1158.1 828.5,1183.5 833.6,1204.2 838.6,1160.6 843.7,1246.2 848.8,1217.7 853.8,1174.0 858.9,1145.5 863.9,1235.3 869.0,1203.0 874.1,1151.9 879.1,1158.8 884.2,1205.1 889.2,1224.1 894.3,1184.7 899.4,1159.9 904.4,1184.9 909.5,1146.7 914.5,1131.7 919.6,1235.8 924.7,1171.4 929.7,1201.7 934.8,1199.1 939.8,1158.5 944.9,1189.6 950.0,1136.4 955.0,1130.3 960.1,1198.5 965.1,1263.8 970.2,1148.1 975.2,1222.9 980.3,1139.1 985.4,1218.6 990.4,1225.5 995.5,1149.0 1000.5,1154.5 1005.6,1178.3 1010.7,1160.7 1015.7,1183.0 1020.8,1171.8 1025.8,1205.6 1030.9,1238.3 1036.0,1085.6 1041.0,1250.0 1046.1,1224.6 1051.1,1229.3 1056.2,1209.9 1061.3,1168.0 1066.3,1231.9 1071.4,1196.8 1076.4,1221.5 1081.5,1207.4 1086.5,1157.6 1091.6,1202.5 1096.7,1174.4 1101.7,1215.0 1106.8,1237.4 1111.8,1194.7 1116.9,1237.1 1122.0,1209.4 1127.0,1176.1 1132.1,1208.0 1137.1,1198.7 1142.2,1119.1 1147.3,1107.9 1152.3,1203.2 1157.4,1192.5 1162.4,1213.7 1167.5,1170.9 1172.6,1198.7 1177.6,1213.2 1182.7,1180.6 1187.7,1200.8 1192.8,1199.6 1197.9,1225.5 1202.9,1171.1 1208.0,1173.3 1213.0,1222.0 1218.1,1239.1 1223.1,1094.3 1228.2,1218.1 1233.3,1189.1 1238.3,1243.1 1243.4,1205.5 1248.4,1218.9 1253.5,1211.5 1258.6,1205.6 1263.6,1154.7 1268.7,1159.0 1273.7,1240.5 1278.8,1153.8 1283.9,1185.3 1288.9,1241.7 1294.0,1194.2 1299.0,1250.0 1304.1,1204.6 1309.2,1170.1 1314.2,1246.6 1319.3,1231.4 1324.3,1235.8 1329.4,1236.5 1334.4,1215.0 1339.5,1209.8 1344.6,1219.4 1349.6,1252.1 1354.7,1177.1 1359.7,1189.1 1364.8,1255.2 1369.9,1181.3 1374.9,1216.3 1380.0,1237.4 1385.0,1214.1 1390.1,1184.7 1395.2,1238.8 1400.2,1211.5 1405.3,1161.9 1410.3,1208.6 1415.4,1213.2 1420.5,1267.6 1425.5,1177.8 1430.6,1232.2 1435.6,1217.2 1440.7,1160.2 1445.8,1183.0 1450.8,1178.9 1455.9,1240.2 1460.9,1202.5 1466.0,1226.2 1471.0,1241.7 1476.1,1145.2 1481.2,1185.8 1486.2,1177.8 1491.3,1203.0 1496.3,1210.3 1501.4,1223.6 1506.5,1169.4 1511.5,1282.0 1516.6,1255.2 1521.6,1185.8 1526.7,1181.3 1531.8,1231.4 1536.8,1184.0 1541.9,1239.6 1546.9,1117.0 1552.0,1251.7 1557.1,1184.0 1562.1,1211.5 1567.2,1204.8 1572.2,1242.6 1577.3,1170.6 1582.3,1242.6 1587.4,1171.8 1592.5,1233.3 1597.5,1146.7 1602.6,1202.5 1607.6,1188.2 1612.7,1181.3 1617.8,1189.1 1622.8,1195.3 1627.9,1239.6 1632.9,1193.9 1638.0,1188.7 1643.1,1233.6 1648.1,1182.7 1653.2,1244.8 1658.2,1169.4 1663.3,1281.6 1668.4,1181.5 1673.4,1263.0 1678.5,1196.1 1683.5,1161.4 1688.6,1202.2 1693.7,1175.4 1698.7,1207.2 1703.8,1202.9 1708.8,1222.7 1713.9,1224.1 1718.9,1149.5 1724.0,1215.0 1729.1,1213.4 1734.1,1195.1 1739.2,1110.1 1744.2,1199.1 1749.3,1198.2 1754.4,1190.4 1759.4,1190.8 1764.5,1226.7 1769.5,1190.4 1774.6,1142.9 1779.7,1211.5 1784.7,1193.5 1789.8,1135.2 1794.8,1180.4 1799.9,1219.4 1805.0,1203.6 1810.0,1275.0 1815.1,1200.8 1820.1,1187.3 1825.2,1150.7 1830.3,1174.4 1835.3,1173.2" fill="none" stroke="#ed9f61" stroke-width="8.3" stroke-linejoin="round" stroke-linecap="round"/>
<path d="M313.4,1263.8a4.15,4.15 0 1,0 8.3,0a4.15,4.15 0 1,0 -8.3,0M318.5,1352.7a4.15,4.15 0 1,0 8.3,0a4.15,4.15 0 1,0 -8.3,0M323.5,1341.5a4.15,4.15 0 1,0 8.3,0a4.15,4.15 0 1,0 -8.3,0M328.6,1309.2a4.15,4.15 0 1,0 8.3,0a4.15,4.15 0 1,0 -8.3,0M333.6,1340.7a4.15,4.15 0 1,0 8.3,0a4.15,4.15 0 1,0 -8.3,0M338.7,1323.9a4.15,4.15 0 1,0 8.3,0a4.15,4.15 0 1,0 -8.3,0M343.8,1315.1a4.15,4.15 0 1,0 8.3,0a4.15,4.15 0 1,0 -8.3,0M348.8,1293.5a4.15,4.15 0 1,0 8.3,0a4.15,4.15 0 1,0 -8.3,0M353.9,1348.4a4.15,4.15 0 1,0 8.3,0a4.15,4.15 0 1,0 -8.3,0M358.9,1252.6a4.15,4.15 0 1,0 8.3,0a4.15,4.15 0 1,0 -8.3,0M364.0,1268.7a4.15,4.15 0 1,0 8.3,0a4.15,4.15 0 1,0 -8.3,0M369.1,1298.9a4.15,4.15 0 1,0 8.3,0a4.15,4.15 0 1,0 -8.3,0M374.1,1217.5a4.15,4.15 0 1,0 8.3,0a4.15,4.15 0 1,0 -8.3,0M379.2,1250.5a4.15,4.15 0 1,0 8.3,0a4.15,4.15 0 1,0 -8.3,0M384.2,1246.9a4.15,4.15 0 1,0 8.3,0a4.15,4.15 0 1,0 -8.3,0M389.3,1308.2a4.15,4.15 0 1,0 8.3,0a4.15,4.15 0 1,0 -8.3,0M394.3,1248.8a4.15,4.15 0 1,0 8.3,0a4.15,4.15 0 1,0 -8.3,0M399.4,1226.7a4.15,4.15 0 1,0 8.3,0a4.15,4.15 0 1,0 -8.3,0M404.5,1245.7a4.15,4.15 0 1,0 8.3,0a4.15,4.15 0 1,0 -8.3,0M409.5,1327.2a4.15,4.15 0 1,0 8.3,0a4.15,4.15 0 1,0 -8.3,0M414.6,1254.0a4.15,4.15 0 1,0 8.3,0a4.15,4.15 0 1,0 -8.3,0M419.6,1235.3a4.15,4.15 0 1,0 8.3,0a4.15,4.15 0 1,0 -8.3,0M424.7,1291.1a4.15,4.15 0 1,0 8.3,0a4.15,4.15 0 1,0 -8.3,0M429.8,1266.8a4.15,4.15 0 1,0 8.3,0a4.15,4.15 0 1,0 -8.3,0M434.8,1227.0a4.15,4.15 0 1,0 8.3,0a4.15,4.15 0 1,0 -8.3,0M439.9,1275.9a4.15,4.15 0 1,0 8.3,0a4.15,4.15 0 1,0 -8.3,0M444.9,1266.4a4.15,4.15 0 1,0 8.3,0a4.15,4.15 0 1,0 -8.3,0M450.0,1269.9a4.15,4.15 0 1,0 8.3,0a4.15,4.15 0 1,0 -8.3,0M455.1,1249.7a4.15,4.15 0 1,0 8.3,0a4.15,4.15 0 1,0 -8.3,0M460.1,1221.5a4.15,4.15 0 1,0 8.3,0a4.15,4.15 0 1,0 -8.3,0M465.2,1269.9a4.15,4.15 0 1,0 8.3,0a4.15,4.15 0 1,0 -8.3,0M470.2,1197.3a4.15,4.15 0 1,0 8.3,0a4.15,4.15 0 1,0 -8.3,0M475.3,1212.4a4.15,4.15 0 1,0 8.3,0a4.15,4.15 0 1,0 -8.3,0M480.4,1270.4a4.15,4.15 0 1,0 8.3,0a4.15,4.15 0 1,0 -8.3,0M485.4,1237.6a4.15,4.15 0 1,0 8.3,0a4.15,4.15 0 1,0 -8.3,0M490.5,1189.2a4.15,4.15 0 1,0 8.3,0a4.15,4.15 0 1,0 -8.3,0M495.5,1256.0a4.15,4.15 0 1,0 8.3,0a4.15,4.15 0 1,0 -8.3,0M500.6,1279.9a4.15,4.15 0 1,0 8.3,0a4.15,4.15 0 1,0 -8.3,0M505.6,1208.9a4.15,4.15 0 1,0 8.3,0a4.15,4.15 0 1,0 -8.3,0M510.7,1284.9a4.15,4.15 0 1,0 8.3,0a4.15,4.15 0 1,0 -8.3,0M515.8,1270.4a4.15,4.15 0 1,0 8.3,0a4.15,4.15 0 1,0 -8.3,0M520.8,1245.3a4.15,4.15 0 1,0 8.3,0a4.15,4.15 0 1,0 -8.3,0M525.9,1266.1a4.15,4.15 0 1,0 8.3,0a4.15,4.15 0 1,0 -8.3,0M530.9,1239.3a4.15,4.15 0 1,0 8.3,0a4.15,4.15 0 1,0 -8.3,0M536.0,1288.9a4.15,4.15 0 1,0 8.3,0a4.15,4.15 0 1,0 -8.3,0M541.1,1347.9a4.15,4.15 0 1,0 8.3,0a4.15,4.15 0 1,0 -8.3,0M546.1,1240.9a4.15,4.15 0 1,0 8.3,0a4.15,4.15 0 1,0 -8.3,0M551.2,1232.7a4.15,4.15 0 1,0 8.3,0a4.15,4.15 0 1,0 -8.3,0M556.2,1200.8a4.15,4.15 0 1,0 8.3,0a4.15,4.15 0 1,0 -8.3,0M561.3,1222.4a4.15,4.15 0 1,0 8.3,0a4.15,4.15 0 1,0 -8.3,0M566.4,1207.4a4.15,4.15 0 1,0 8.3,0a4.15,4.15 0 1,0 -8.3,0M571.4,1243.1a4.15,4.15 0 1,0 8.3,0a4.15,4.15 0 1,0 -8.3,0M576.5,1231.5a4.15,4.15 0 1,0 8.3,0a4.15,4.15 0 1,0 -8.3,0M581.5,1239.1a4.15,4.15 0 1,0 8.3,0a4.15,4.15 0 1,0 -8.3,0M586.6,1226.3a4.15,4.15 0 1,0 8.3,0a4.15,4.15 0 1,0 -8.3,0M591.7,1184.0a4.15,4.15 0 1,0 8.3,0a4.15,4.15 0 1,0 -8.3,0M596.7,1204.6a4.15,4.15 0 1,0 8.3,0a4.15,4.15 0 1,0 -8.3,0M601.8,1249.1a4.15,4.15 0 1,0 8.3,0a4.15,4.15 0 1,0 -8.3,0M606.8,1195.3a4.15,4.15 0 1,0 8.3,0a4.15,4.15 0 1,0 -8.3,0M611.9,1231.5a4.15,4.15 0 1,0 8.3,0a4.15,4.15 0 1,0 -8.3,0M617.0,1237.1a4.15,4.15 0 1,0 8.3,0a4.15,4.15 0 1,0 -8.3,0M622.0,1197.7a4.15,4.15 0 1,0 8.3,0a4.15,4.15 0 1,0 -8.3,0M627.1,1165.7a4.15,4.15 0 1,0 8.3,0a4.15,4.15 0 1,0 -8.3,0M632.1,1256.9a4.15,4.15 0 1,0 8.3,0a4.15,4.15 0 1,0 -8.3,0M637.2,1178.9a4.15,4.15 0 1,0 8.3,0a4.15,4.15 0 1,0 -8.3,0M642.2,1231.9a4.15,4.15 0 1,0 8.3,0a4.15,4.15 0 1,0 -8.3,0M647.3,1243.4a4.15,4.15 0 1,0 8.3,0a4.15,4.15 0 1,0 -8.3,0M652.4,1226.3a4.15,4.15 0 1,0 8.3,0a4.15,4.15 0 1,0 -8.3,0M657.4,1178.0a4.15,4.15 0 1,0 8.3,0a4.15,4.15 0 1,0 -8.3,0M662.5,1188.7a4.15,4.15 0 1,0 8.3,0a4.15,4.15 0 1,0 -8.3,0M667.5,1258.1a4.15,4.15 0 1,0 8.3,0a4.15,4.15 0 1,0 -8.3,0M672.6,1221.5a4.15,4.15 0 1,0 8.3,0a4.15,4.15 0 1,0 -8.3,0M677.7,1197.9a4.15,4.15 0 1,0 8.3,0a4.15,4.15 0 1,0 -8.3,0M682.7,1254.0a4.15,4.15 0 1,0 8.3,0a4.15,4.15 0 1,0 -8.3,0M687.8,1088.0a4.15,4.15 0 1,0 8.3,0a4.15,4.15 0 1,0 -8.3,0M692.8,1214.3a4.15,4.15 0 1,0 8.3,0a4.15,4.15 0 1,0 -8.3,0M697.9,1222.9a4.15,4.15 0 1,0 8.3,0a4.15,4.15 0 1,0 -8.3,0M703.0,1251.7a4.15,4.15 0 1,0 8.3,0a4.15,4.15 0 1,0 -8.3,0M708.0,1172.0a4.15,4.15 0 1,0 8.3,0a4.15,4.15 0 1,0 -8.3,0M713.1,1209.4a4.15,4.15 0 1,0 8.3,0a4.15,4.15 0 1,0 -8.3,0M718.1,1156.2a4.15,4.15 0 1,0 8.3,0a4.15,4.15 0 1,0 -8.3,0M723.2,1216.3a4.15,4.15 0 1,0 8.3,0a4.15,4.15 0 1,0 -8.3,0M728.3,1164.0a4.15,4.15 0 1,0 8.3,0a4.15,4.15 0 1,0 -8.3,0M733.3,1238.3a4.15,4.15 0 1,0 8.3,0a4.15,4.15 0 1,0 -8.3,0M738.4,1275.6a4.15,4.15 0 1,0 8.3,0a4.15,4.15 0 1,0 -8.3,0M743.4,1240.2a4.15,4.15 0 1,0 8.3,0a4.15,4.15 0 1,0 -8.3,0M748.5,1254.3a4.15,4.15 0 1,0 8.3,0a4.15,4.15 0 1,0 -8.3,0M753.6,1203.4a4.15,4.15 0 1,0 8.3,0a4.15,4.15 0 1,0 -8.3,0M758.6,1146.1a4.15,4.15 0 1,0 8.3,0a4.15,4.15 0 1,0 -8.3,0M763.7,1245.2a4.15,4.15 0 1,0 8.3,0a4.15,4.15 0 1,0 -8.3,0M768.7,1213.4a4.15,4.15 0 1,0 8.3,0a4.15,4.15 0 1,0 -8.3,0M773.8,1231.9a4.15,4.15 0 1,0 8.3,0a4.15,4.15 0 1,0 -8.3,0M778.8,1194.4a4.15,4.15 0 1,0 8.3,0a4.15,4.15 0 1,0 -8.3,0M783.9,1177.5a4.15,4.15 0 1,0 8.3,0a4.15,4.15 0 1,0 -8.3,0M789.0,1244.8a4.15,4.15 0 1,0 8.3,0a4.15,4.15 0 1,0 -8.3,0M794.0,1183.2a4.15,4.15 0 1,0 8.3,0a4.15,4.15 0 1,0 -8.3,0M799.1,1177.0a4.15,4.15 0 1,0 8.3,0a4.15,4.15 0 1,0 -8.3,0M804.1,1229.6a4.15,4.15 0 1,0 8.3,0a4.15,4.15 0 1,0 -8.3,0M809.2,1210.6a4.15,4.15 0 1,0 8.3,0a4.15,4.15 0 1,0 -8.3,0M814.3,1185.6a4.15,4.15 0 1,0 8.3,0a4.15,4.15 0 1,0 -8.3,0M819.3,1158.1a4.15,4.15 0 1,0 8.3,0a4.15,4.15 0 1,0 -8.3,0M824.4,1183.5a4.15,4.15 0 1,0 8.3,0a4.15,4.15 0 1,0 -8.3,0M829.4,1204.2a4.15,4.15 0 1,0 8.3,0a4.15,4.15 0 1,0 -8.3,0M834.5,1160.6a4.15,4.15 0 1,0 8.3,0a4.15,4.15 0 1,0 -8.3,0M839.6,1246.2a4.15,4.15 0 1,0 8.3,0a4.15,4.15 0 1,0 -8.3,0M844.6,1217.7a4.15,4.15 0 1,0 8.3,0a4.15,4.15 0 1,0 -8.3,0M849.7,1174.0a4.15,4.15 0 1,0 8.3,0a4.15,4.15 0 1,0 -8.3,0M854.7,1145.5a4.15,4.15 0 1,0 8.3,0a4.15,4.15 0 1,0 -8.3,0M859.8,1235.3a4.15,4.15 0 1,0 8.3,0a4.15,4.15 0 1,0 -8.3,0M864.9,1203.0a4.15,4.15 0 1,0 8.3,0a4.15,4.15 0 1,0 -8.3,0M869.9,1151.9a4.15,4.15 0 1,0 8.3,0a4.15,4.15 0 1,0 -8.3,0M875.0,1158.8a4.15,4.15 0 1,0 8.3,0a4.15,4.15 0 1,0 -8.3,0M880.0,1205.1a4.15,4.15 0 1,0 8.3,0a4.15,4.15 0 1,0 -8.3,0M885.1,1224.1a4.15,4.15 0 1,0 8.3,0a4.15,4.15 0 1,0 -8.3,0M890.1,1184.7a4.15,4.15 0 1,0 8.3,0a4.15,4.15 0 1,0 -8.3,0M895.2,1159.9a4.15,4.15 0 1,0 8.3,0a4.15,4.15 0 1,0 -8.3,0M900.3,1184.9a4.15,4.15 0 1,0 8.3,0a4.15,4.15 0 1,0 -8.3,0M905.3,1146.7a4.15,4.15 0 1,0 8.3,0a4.15,4.15 0 1,0 -8.3,0M910.4,1131.7a4.15,4.15 0 1,0 8.3,0a4.15,4.15 0 1,0 -8.3,0M915.4,1235.8a4.15,4.15 0 1,0 8.3,0a4.15,4.15 0 1,0 -8.3,0M920.5,1171.4a4.15,4.15 0 1,0 8.3,0a4.15,4.15 0 1,0 -8.3,0M925.6,1201.7a4.15,4.15 0 1,0 8.3,0a4.15,4.15 0 1,0 -8.3,0M930.6,1199.1a4.15,4.15 0 1,0 8.3,0a4.15,4.15 0 1,0 -8.3,0M935.7,1158.5a4.15,4.15 0 1,0 8.3,0a4.15,4.15 0 1,0 -8.3,0M940.7,1189.6a4.15,4.15 0 1,0 8.3,0a4.15,4.15 0 1,0 -8.3,0M945.8,1136.4a4.15,4.15 0 1,0 8.3,0a4.15,4.15 0 1,0 -8.3,0M950.9,1130.3a4.15,4.15 0 1,0 8.3,0a4.15,4.15 0 1,0 -8.3,0M955.9,1198.5a4.15,4.15 0 1,0 8.3,0a4.15,4.15 0 1,0 -8.3,0M961.0,1263.8a4.15,4.15 0 1,0 8.3,0a4.15,4.15 0 1,0 -8.3,0M966.0,1148.1a4.15,4.15 0 1,0 8.3,0a4.15,4.15 0 1,0 -8.3,0M971.1,1222.9a4.15,4.15 0 1,0 8.3,0a4.15,4.15 0 1,0 -8.3,0M976.2,1139.1a4.15,4.15 0 1,0 8.3,0a4.15,4.15 0 1,0 -8.3,0M981.2,1218.6a4.15,4.15 0 1,0 8.3,0a4.15,4.15 0 1,0 -8.3,0M986.3,1225.5a4.15,4.15 0 1,0 8.3,0a4.15,4.15 0 1,0 -8.3,0M991.3,1149.0a4.15,4.15 0 1,0 8.3,0a4.15,4.15 0 1,0 -8.3,0M996.4,1154.5a4.15,4.15 0 1,0 8.3,0a4.15,4.15 0 1,0 -8.3,0M1001.5,1178.3a4.15,4.15 0 1,0 8.3,0a4.15,4.15 0 1,0 -8.3,0M1006.5,1160.7a4.15,4.15 0 1,0 8.3,0a4.15,4.15 0 1,0 -8.3,0M1011.6,1183.0a4.15,4.15 0 1,0 8.3,0a4.15,4.15 0 1,0 -8.3,0M1016.6,1171.8a4.15,4.15 0 1,0 8.3,0a4.15,4.15 0 1,0 -8.3,0M1021.7,1205.6a4.15,4.15 0 1,0 8.3,0a4.15,4.15 0 1,0 -8.3,0M1026.7,1238.3a4.15,4.15 0 1,0 8.3,0a4.15,4.15 0 1,0 -8.3,0M1036.9,1250.0a4.15,4.15 0 1,0 8.3,0a4.15,4.15 0 1,0 -8.3,0M1041.9,1224.6a4.15,4.15 0 1,0 8.3,0a4.15,4.15 0 1,0 -8.3,0M1047.0,1229.3a4.15,4.15 0 1,0 8.3,0a4.15,4.15 0 1,0 -8.3,0M1052.0,1209.9a4.15,4.15 0 1,0 8.3,0a4.15,4.15 0 1,0 -8.3,0M1057.1,1168.0a4.15,4.15 0 1,0 8.3,0a4.15,4.15 0 1,0 -8.3,0M1062.2,1231.9a4.15,4.15 0 1,0 8.3,0a4.15,4.15 0 1,0 -8.3,0M1067.2,1196.8a4.15,4.15 0 1,0 8.3,0a4.15,4.15 0 1,0 -8.3,0M1072.3,1221.5a4.15,4.15 0 1,0 8.3,0a4.15,4.15 0 1,0 -8.3,0M1077.3,1207.4a4.15,4.15 0 1,0 8.3,0a4.15,4.15 0 1,0 -8.3,0M1082.4,1157.6a4.15,4.15 0 1,0 8.3,0a4.15,4.15 0 1,0 -8.3,0M1087.5,1202.5a4.15,4.15 0 1,0 8.3,0a4.15,4.15 0 1,0 -8.3,0M1092.5,1174.4a4.15,4.15 0 1,0 8.3,0a4.15,4.15 0 1,0 -8.3,0M1097.6,1215.0a4.15,4.15 0 1,0 8.3,0a4.15,4.15 0 1,0 -8.3,0M1102.6,1237.4a4.15,4.15 0 1,0 8.3,0a4.15,4.15 0 1,0 -8.3,0M1107.7,1194.7a4.15,4.15 0 1,0 8.3,0a4.15,4.15 0 1,0 -8.3,0M1112.8,1237.1a4.15,4.15 0 1,0 8.3,0a4.15,4.15 0 1,0 -8.3,0M1117.8,1209.4a4.15,4.15 0 1,0 8.3,0a4.15,4.15 0 1,0 -8.3,0M1122.9,1176.1a4.15,4.15 0 1,0 8.3,0a4.15,4.15 0 1,0 -8.3,0M1127.9,1208.0a4.15,4.15 0 1,0 8.3,0a4.15,4.15 0 1,0 -8.3,0M1133.0,1198.7a4.15,4.15 0 1,0 8.3,0a4.15,4.15 0 1,0 -8.3,0M1138.0,1119.1a4.15,4.15 0 1,0 8.3,0a4.15,4.15 0 1,0 -8.3,0M1143.1,1107.9a4.15,4.15 0 1,0 8.3,0a4.15,4.15 0 1,0 -8.3,0M1148.2,1203.2a4.15,4.15 0 1,0 8.3,0a4.15,4.15 0 1,0 -8.3,0M1153.2,1192.5a4.15,4.15 0 1,0 8.3,0a4.15,4.15 0 1,0 -8.3,0M1158.3,1213.7a4.15,4.15 0 1,0 8.3,0a4.15,4.15 0 1,0 -8.3,0M1163.3,1170.9a4.15,4.15 0 1,0 8.3,0a4.15,4.15 0 1,0 -8.3,0M1168.4,1198.7a4.15,4.15 0 1,0 8.3,0a4.15,4.15 0 1,0 -8.3,0M1173.5,1213.2a4.15,4.15 0 1,0 8.3,0a4.15,4.15 0 1,0 -8.3,0M1178.5,1180.6a4.15,4.15 0 1,0 8.3,0a4.15,4.15 0 1,0 -8.3,0M1183.6,1200.8a4.15,4.15 0 1,0 8.3,0a4.15,4.15 0 1,0 -8.3,0M1188.6,1199.6a4.15,4.15 0 1,0 8.3,0a4.15,4.15 0 1,0 -8.3,0M1193.7,1225.5a4.15,4.15 0 1,0 8.3,0a4.15,4.15 0 1,0 -8.3,0M1198.8,1171.1a4.15,4.15 0 1,0 8.3,0a4.15,4.15 0 1,0 -8.3,0M1203.8,1173.3a4.15,4.15 0 1,0 8.3,0a4.15,4.15 0 1,0 -8.3,0M1208.9,1222.0a4.15,4.15 0 1,0 8.3,0a4.15,4.15 0 1,0 -8.3,0M1213.9,1239.1a4.15,4.15 0 1,0 8.3,0a4.15,4.15 0 1,0 -8.3,0M1219.0,1094.3a4.15,4.15 0 1,0 8.3,0a4.15,4.15 0 1,0 -8.3,0M1224.1,1218.1a4.15,4.15 0 1,0 8.3,0a4.15,4.15 0 1,0 -8.3,0M1229.1,1189.1a4.15,4.15 0 1,0 8.3,0a4.15,4.15 0 1,0 -8.3,0M1234.2,1243.1a4.15,4.15 0 1,0 8.3,0a4.15,4.15 0 1,0 -8.3,0M1239.2,1205.5a4.15,4.15 0 1,0 8.3,0a4.15,4.15 0 1,0 -8.3,0M1244.3,1218.9a4.15,4.15 0 1,0 8.3,0a4.15,4.15 0 1,0 -8.3,0M1249.4,1211.5a4.15,4.15 0 1,0 8.3,0a4.15,4.15 0 1,0 -8.3,0M1254.4,1205.6a4.15,4.15 0 1,0 8.3,0a4.15,4.15 0 1,0 -8.3,0M1259.5,1154.7a4.15,4.15 0 1,0 8.3,0a4.15,4.15 0 1,0 -8.3,0M1264.5,1159.0a4.15,4.15 0 1,0 8.3,0a4.15,4.15 0 1,0 -8.3,0M1269.6,1240.5a4.15,4.15 0 1,0 8.3,0a4.15,4.15 0 1,0 -8.3,0M1274.6,1153.8a4.15,4.15 0 1,0 8.3,0a4.15,4.15 0 1,0 -8.3,0M1279.7,1185.3a4.15,4.15 0 1,0 8.3,0a4.15,4.15 0 1,0 -8.3,0M1284.8,1241.7a4.15,4.15 0 1,0 8.3,0a4.15,4.15 0 1,0 -8.3,0M1289.8,1194.2a4.15,4.15 0 1,0 8.3,0a4.15,4.15 0 1,0 -8.3,0M1294.9,1250.0a4.15,4.15 0 1,0 8.3,0a4.15,4.15 0 1,0 -8.3,0M1299.9,1204.6a4.15,4.15 0 1,0 8.3,0a4.15,4.15 0 1,0 -8.3,0M1305.0,1170.1a4.15,4.15 0 1,0 8.3,0a4.15,4.15 0 1,0 -8.3,0M1310.1,1246.6a4.15,4.15 0 1,0 8.3,0a4.15,4.15 0 1,0 -8.3,0M1315.1,1231.4a4.15,4.15 0 1,0 8.3,0a4.15,4.15 0 1,0 -8.3,0M1320.2,1235.8a4.15,4.15 0 1,0 8.3,0a4.15,4.15 0 1,0 -8.3,0M1325.2,1236.5a4.15,4.15 0 1,0 8.3,0a4.15,4.15 0 1,0 -8.3,0M1330.3,1215.0a4.15,4.15 0 1,0 8.3,0a4.15,4.15 0 1,0 -8.3,0M1335.4,1209.8a4.15,4.15 0 1,0 8.3,0a4.15,4.15 0 1,0 -8.3,0M1340.4,1219.4a4.15,4.15 0 1,0 8.3,0a4.15,4.15 0 1,0 -8.3,0M1345.5,1252.1a4.15,4.15 0 1,0 8.3,0a4.15,4.15 0 1,0 -8.3,0M1350.5,1177.1a4.15,4.15 0 1,0 8.3,0a4.15,4.15 0 1,0 -8.3,0M1355.6,1189.1a4.15,4.15 0 1,0 8.3,0a4.15,4.15 0 1,0 -8.3,0M1360.7,1255.2a4.15,4.15 0 1,0 8.3,0a4.15,4.15 0 1,0 -8.3,0M1365.7,1181.3a4.15,4.15 0 1,0 8.3,0a4.15,4.15 0 1,0 -8.3,0M1370.8,1216.3a4.15,4.15 0 1,0 8.3,0a4.15,4.15 0 1,0 -8.3,0M1375.8,1237.4a4.15,4.15 0 1,0 8.3,0a4.15,4.15 0 1,0 -8.3,0M1380.9,1214.1a4.15,4.15 0 1,0 8.3,0a4.15,4.15 0 1,0 -8.3,0M1386.0,1184.7a4.15,4.15 0 1,0 8.3,0a4.15,4.15 0 1,0 -8.3,0M1391.0,1238.8a4.15,4.15 0 1,0 8.3,0a4.15,4.15 0 1,0 -8.3,0M1396.1,1211.5a4.15,4.15 0 1,0 8.3,0a4.15,4.15 0 1,0 -8.3,0M1401.1,1161.9a4.15,4.15 0 1,0 8.3,0a4.15,4.15 0 1,0 -8.3,0M1406.2,1208.6a4.15,4.15 0 1,0 8.3,0a4.15,4.15 0 1,0 -8.3,0M1411.2,1213.2a4.15,4.15 0 1,0 8.3,0a4.15,4.15 0 1,0 -8.3,0M1416.3,1267.6a4.15,4.15 0 1,0 8.3,0a4.15,4.15 0 1,0 -8.3,0M1421.4,1177.8a4.15,4.15 0 1,0 8.3,0a4.15,4.15 0 1,0 -8.3,0M1426.4,1232.2a4.15,4.15 0 1,0 8.3,0a4.15,4.15 0 1,0 -8.3,0M1431.5,1217.2a4.15,4.15 0 1,0 8.3,0a4.15,4.15 0 1,0 -8.3,0M1436.5,1160.2a4.15,4.15 0 1,0 8.3,0a4.15,4.15 0 1,0 -8.3,0M1441.6,1183.0a4.15,4.15 0 1,0 8.3,0a4.15,4.15 0 1,0 -8.3,0M1446.7,1178.9a4.15,4.15 0 1,0 8.3,0a4.15,4.15 0 1,0 -8.3,0M1451.7,1240.2a4.15,4.15 0 1,0 8.3,0a4.15,4.15 0 1,0 -8.3,0M1456.8,1202.5a4.15,4.15 0 1,0 8.3,0a4.15,4.15 0 1,0 -8.3,0M1461.8,1226.2a4.15,4.15 0 1,0 8.3,0a4.15,4.15 0 1,0 -8.3,0M1466.9,1241.7a4.15,4.15 0 1,0 8.3,0a4.15,4.15 0 1,0 -8.3,0M1472.0,1145.2a4.15,4.15 0 1,0 8.3,0a4.15,4.15 0 1,0 -8.3,0M1477.0,1185.8a4.15,4.15 0 1,0 8.3,0a4.15,4.15 0 1,0 -8.3,0M1482.1,1177.8a4.15,4.15 0 1,0 8.3,0a4.15,4.15 0 1,0 -8.3,0M1487.1,1203.0a4.15,4.15 0 1,0 8.3,0a4.15,4.15 0 1,0 -8.3,0M1492.2,1210.3a4.15,4.15 0 1,0 8.3,0a4.15,4.15 0 1,0 -8.3,0M1497.3,1223.6a4.15,4.15 0 1,0 8.3,0a4.15,4.15 0 1,0 -8.3,0M1502.3,1169.4a4.15,4.15 0 1,0 8.3,0a4.15,4.15 0 1,0 -8.3,0M1507.4,1282.0a4.15,4.15 0 1,0 8.3,0a4.15,4.15 0 1,0 -8.3,0M1512.4,1255.2a4.15,4.15 0 1,0 8.3,0a4.15,4.15 0 1,0 -8.3,0M1517.5,1185.8a4.15,4.15 0 1,0 8.3,0a4.15,4.15 0 1,0 -8.3,0M1522.5,1181.3a4.15,4.15 0 1,0 8.3,0a4.15,4.15 0 1,0 -8.3,0M1527.6,1231.4a4.15,4.15 0 1,0 8.3,0a4.15,4.15 0 1,0 -8.3,0M1532.7,1184.0a4.15,4.15 0 1,0 8.3,0a4.15,4.15 0 1,0 -8.3,0M1537.7,1239.6a4.15,4.15 0 1,0 8.3,0a4.15,4.15 0 1,0 -8.3,0M1542.8,1117.0a4.15,4.15 0 1,0 8.3,0a4.15,4.15 0 1,0 -8.3,0M1547.8,1251.7a4.15,4.15 0 1,0 8.3,0a4.15,4.15 0 1,0 -8.3,0M1552.9,1184.0a4.15,4.15 0 1,0 8.3,0a4.15,4.15 0 1,0 -8.3,0M1558.0,1211.5a4.15,4.15 0 1,0 8.3,0a4.15,4.15 0 1,0 -8.3,0M1563.0,1204.8a4.15,4.15 0 1,0 8.3,0a4.15,4.15 0 1,0 -8.3,0M1568.1,1242.6a4.15,4.15 0 1,0 8.3,0a4.15,4.15 0 1,0 -8.3,0M1573.1,1170.6a4.15,4.15 0 1,0 8.3,0a4.15,4.15 0 1,0 -8.3,0M1578.2,1242.6a4.15,4.15 0 1,0 8.3,0a4.15,4.15 0 1,0 -8.3,0M1583.3,1171.8a4.15,4.15 0 1,0 8.3,0a4.15,4.15 0 1,0 -8.3,0M1588.3,1233.3a4.15,4.15 0 1,0 8.3,0a4.15,4.15 0 1,0 -8.3,0M1593.4,1146.7a4.15,4.15 0 1,0 8.3,0a4.15,4.15 0 1,0 -8.3,0M1598.4,1202.5a4.15,4.15 0 1,0 8.3,0a4.15,4.15 0 1,0 -8.3,0M1603.5,1188.2a4.15,4.15 0 1,0 8.3,0a4.15,4.15 0 1,0 -8.3,0M1608.6,1181.3a4.15,4.15 0 1,0 8.3,0a4.15,4.15 0 1,0 -8.3,0M1613.6,1189.1a4.15,4.15 0 1,0 8.3,0a4.15,4.15 0 1,0 -8.3,0M1618.7,1195.3a4.15,4.15 0 1,0 8.3,0a4.15,4.15 0 1,0 -8.3,0M1623.7,1239.6a4.15,4.15 0 1,0 8.3,0a4.15,4.15 0 1,0 -8.3,0M1628.8,1193.9a4.15,4.15 0 1,0 8.3,0a4.15,4.15 0 1,0 -8.3,0M1633.9,1188.7a4.15,4.15 0 1,0 8.3,0a4.15,4.15 0 1,0 -8.3,0M1638.9,1233.6a4.15,4.15 0 1,0 8.3,0a4.15,4.15 0 1,0 -8.3,0M1644.0,1182.7a4.15,4.15 0 1,0 8.3,0a4.15,4.15 0 1,0 -8.3,0M1649.0,1244.8a4.15,4.15 0 1,0 8.3,0a4.15,4.15 0 1,0 -8.3,0M1654.1,1169.4a4.15,4.15 0 1,0 8.3,0a4.15,4.15 0 1,0 -8.3,0M1659.1,1281.6a4.15,4.15 0 1,0 8.3,0a4.15,4.15 0 1,0 -8.3,0M1664.2,1181.5a4.15,4.15 0 1,0 8.3,0a4.15,4.15 0 1,0 -8.3,0M1669.3,1263.0a4.15,4.15 0 1,0 8.3,0a4.15,4.15 0 1,0 -8.3,0M1674.3,1196.1a4.15,4.15 0 1,0 8.3,0a4.15,4.15 0 1,0 -8.3,0M1679.4,1161.4a4.15,4.15 0 1,0 8.3,0a4.15,4.15 0 1,0 -8.3,0M1684.4,1202.2a4.15,4.15 0 1,0 8.3,0a4.15,4.15 0 1,0 -8.3,0M1689.5,1175.4a4.15,4.15 0 1,0 8.3,0a4.15,4.15 0 1,0 -8.3,0M1694.6,1207.2a4.15,4.15 0 1,0 8.3,0a4.15,4.15 0 1,0 -8.3,0M1699.6,1202.9a4.15,4.15 0 1,0 8.3,0a4.15,4.15 0 1,0 -8.3,0M1704.7,1222.7a4.15,4.15 0 1,0 8.3,0a4.15,4.15 0 1,0 -8.3,0M1709.7,1224.1a4.15,4.15 0 1,0 8.3,0a4.15,4.15 0 1,0 -8.3,0M1714.8,1149.5a4.15,4.15 0 1,0 8.3,0a4.15,4.15 0 1,0 -8.3,0M1719.9,1215.0a4.15,4.15 0 1,0 8.3,0a4.15,4.15 0 1,0 -8.3,0M1724.9,1213.4a4.15,4.15 0 1,0 8.3,0a4.15,4.15 0 1,0 -8.3,0M1730.0,1195.1a4.15,4.15 0 1,0 8.3,0a4.15,4.15 0 1,0 -8.3,0M1735.0,1110.1a4.15,4.15 0 1,0 8.3,0a4.15,4.15 0 1,0 -8.3,0M1740.1,1199.1a4.15,4.15 0 1,0 8.3,0a4.15,4.15 0 1,0 -8.3,0M1745.2,1198.2a4.15,4.15 0 1,0 8.3,0a4.15,4.15 0 1,0 -8.3,0M1750.2,1190.4a4.15,4.15 0 1,0 8.3,0a4.15,4.15 0 1,0 -8.3,0M1755.3,1190.8a4.15,4.15 0 1,0 8.3,0a4.15,4.15 0 1,0 -8.3,0M1760.3,1226.7a4.15,4.15 0 1,0 8.3,0a4.15,4.15 0 1,0 -8.3,0M1765.4,1190.4a4.15,4.15 0 1,0 8.3,0a4.15,4.15 0 1,0 -8.3,0M1770.4,1142.9a4.15,4.15 0 1,0 8.3,0a4.15,4.15 0 1,0 -8.3,0M1775.5,1211.5a4.15,4.15 0 1,0 8.3,0a4.15,4.15 0 1,0 -8.3,0M1780.6,1193.5a4.15,4.15 0 1,0 8.3,0a4.15,4.15 0 1,0 -8.3,0M1785.6,1135.2a4.15,4.15 0 1,0 8.3,0a4.15,4.15 0 1,0 -8.3,0M1790.7,1180.4a4.15,4.15 0 1,0 8.3,0a4.15,4.15 0 1,0 -8.3,0M1795.7,1219.4a4.15,4.15 0 1,0 8.3,0a4.15,4.15 0 1,0 -8.3,0M1800.8,1203.6a4.15,4.15 0 1,0 8.3,0a4.15,4.15 0 1,0 -8.3,0M1805.9,1275.0a4.15,4.15 0 1,0 8.3,0a4.15,4.15 0 1,0 -8.3,0M1810.9,1200.8a4.15,4.15 0 1,0 8.3,0a4.15,4.15 0 1,0 -8.3,0M1816.0,1187.3a4.15,4.15 0 1,0 8.3,0a4.15,4.15 0 1,0 -8.3,0M1821.0,1150.7a4.15,4.15 0 1,0 8.3,0a4.15,4.15 0 1,0 -8.3,0M1826.1,1174.4a4.15,4.15 0 1,0 8.3,0a4.15,4.15 0 1,0 -8.3,0M1831.2,1173.2a4.15,4.15 0 1,0 8.3,0a4.15,4.15 0 1,0 -8.3,0" fill="#000"/>
<line x1="317.00" y1="1191.76" x2="1832.00" y2="1191.76" stroke="#b0172a" stroke-width="8" stroke-linecap="round" stroke-dasharray="10.4 15.477"/>
<line x1="266.65" y1="1087.20" x2="266.65" y2="1610.00" stroke="#000" stroke-width="5.4" stroke-linecap="round" />
<line x1="266.65" y1="1610.00" x2="1834.40" y2="1610.00" stroke="#000" stroke-width="5.4" stroke-linecap="round" />
<line x1="266.73" y1="1610.00" x2="266.73" y2="1627.60" stroke="#000" stroke-width="3.0" stroke-linecap="round" />
<line x1="317.30" y1="1610.00" x2="317.30" y2="1644.80" stroke="#000" stroke-width="5.6" stroke-linecap="round" />
<text transform="translate(317.30,1714.90) scale(1,1.06)" font-family="Liberation Sans, sans-serif" font-weight="bold" font-size="48.3" text-anchor="middle" fill="#000" >0</text>
<line x1="367.87" y1="1610.00" x2="367.87" y2="1627.60" stroke="#000" stroke-width="3.0" stroke-linecap="round" />
<line x1="418.44" y1="1610.00" x2="418.44" y2="1627.60" stroke="#000" stroke-width="3.0" stroke-linecap="round" />
<line x1="469.01" y1="1610.00" x2="469.01" y2="1627.60" stroke="#000" stroke-width="3.0" stroke-linecap="round" />
<line x1="519.58" y1="1610.00" x2="519.58" y2="1627.60" stroke="#000" stroke-width="3.0" stroke-linecap="round" />
<line x1="570.15" y1="1610.00" x2="570.15" y2="1644.80" stroke="#000" stroke-width="5.6" stroke-linecap="round" />
<text transform="translate(570.15,1714.90) scale(1,1.06)" font-family="Liberation Sans, sans-serif" font-weight="bold" font-size="48.3" text-anchor="middle" fill="#000" >50</text>
<line x1="620.72" y1="1610.00" x2="620.72" y2="1627.60" stroke="#000" stroke-width="3.0" stroke-linecap="round" />
<line x1="671.29" y1="1610.00" x2="671.29" y2="1627.60" stroke="#000" stroke-width="3.0" stroke-linecap="round" />
<line x1="721.86" y1="1610.00" x2="721.86" y2="1627.60" stroke="#000" stroke-width="3.0" stroke-linecap="round" />
<line x1="772.43" y1="1610.00" x2="772.43" y2="1627.60" stroke="#000" stroke-width="3.0" stroke-linecap="round" />
<line x1="823.00" y1="1610.00" x2="823.00" y2="1644.80" stroke="#000" stroke-width="5.6" stroke-linecap="round" />
<text transform="translate(823.00,1714.90) scale(1,1.06)" font-family="Liberation Sans, sans-serif" font-weight="bold" font-size="48.3" text-anchor="middle" fill="#000" >100</text>
<line x1="873.57" y1="1610.00" x2="873.57" y2="1627.60" stroke="#000" stroke-width="3.0" stroke-linecap="round" />
<line x1="924.14" y1="1610.00" x2="924.14" y2="1627.60" stroke="#000" stroke-width="3.0" stroke-linecap="round" />
<line x1="974.71" y1="1610.00" x2="974.71" y2="1627.60" stroke="#000" stroke-width="3.0" stroke-linecap="round" />
<line x1="1025.28" y1="1610.00" x2="1025.28" y2="1627.60" stroke="#000" stroke-width="3.0" stroke-linecap="round" />
<line x1="1075.85" y1="1610.00" x2="1075.85" y2="1644.80" stroke="#000" stroke-width="5.6" stroke-linecap="round" />
<text transform="translate(1075.85,1714.90) scale(1,1.06)" font-family="Liberation Sans, sans-serif" font-weight="bold" font-size="48.3" text-anchor="middle" fill="#000" >150</text>
<line x1="1126.42" y1="1610.00" x2="1126.42" y2="1627.60" stroke="#000" stroke-width="3.0" stroke-linecap="round" />
<line x1="1176.99" y1="1610.00" x2="1176.99" y2="1627.60" stroke="#000" stroke-width="3.0" stroke-linecap="round" />
<line x1="1227.56" y1="1610.00" x2="1227.56" y2="1627.60" stroke="#000" stroke-width="3.0" stroke-linecap="round" />
<line x1="1278.13" y1="1610.00" x2="1278.13" y2="1627.60" stroke="#000" stroke-width="3.0" stroke-linecap="round" />
<line x1="1328.70" y1="1610.00" x2="1328.70" y2="1644.80" stroke="#000" stroke-width="5.6" stroke-linecap="round" />
<text transform="translate(1328.70,1714.90) scale(1,1.06)" font-family="Liberation Sans, sans-serif" font-weight="bold" font-size="48.3" text-anchor="middle" fill="#000" >200</text>
<line x1="1379.27" y1="1610.00" x2="1379.27" y2="1627.60" stroke="#000" stroke-width="3.0" stroke-linecap="round" />
<line x1="1429.84" y1="1610.00" x2="1429.84" y2="1627.60" stroke="#000" stroke-width="3.0" stroke-linecap="round" />
<line x1="1480.41" y1="1610.00" x2="1480.41" y2="1627.60" stroke="#000" stroke-width="3.0" stroke-linecap="round" />
<line x1="1530.98" y1="1610.00" x2="1530.98" y2="1627.60" stroke="#000" stroke-width="3.0" stroke-linecap="round" />
<line x1="1581.55" y1="1610.00" x2="1581.55" y2="1644.80" stroke="#000" stroke-width="5.6" stroke-linecap="round" />
<text transform="translate(1581.55,1714.90) scale(1,1.06)" font-family="Liberation Sans, sans-serif" font-weight="bold" font-size="48.3" text-anchor="middle" fill="#000" >250</text>
<line x1="1632.12" y1="1610.00" x2="1632.12" y2="1627.60" stroke="#000" stroke-width="3.0" stroke-linecap="round" />
<line x1="1682.69" y1="1610.00" x2="1682.69" y2="1627.60" stroke="#000" stroke-width="3.0" stroke-linecap="round" />
<line x1="1733.26" y1="1610.00" x2="1733.26" y2="1627.60" stroke="#000" stroke-width="3.0" stroke-linecap="round" />
<line x1="1783.83" y1="1610.00" x2="1783.83" y2="1627.60" stroke="#000" stroke-width="3.0" stroke-linecap="round" />
<line x1="1834.40" y1="1610.00" x2="1834.40" y2="1644.80" stroke="#000" stroke-width="5.6" stroke-linecap="round" />
<text transform="translate(1834.40,1714.90) scale(1,1.06)" font-family="Liberation Sans, sans-serif" font-weight="bold" font-size="48.3" text-anchor="middle" fill="#000" >300</text>
<line x1="249.60" y1="1610.00" x2="266.65" y2="1610.00" stroke="#000" stroke-width="3.0" stroke-linecap="round" />
<line x1="249.60" y1="1583.86" x2="266.65" y2="1583.86" stroke="#000" stroke-width="3.0" stroke-linecap="round" />
<line x1="232.00" y1="1557.72" x2="266.65" y2="1557.72" stroke="#000" stroke-width="5.6" stroke-linecap="round" />
<text transform="translate(199.50,1575.32) scale(1,1.06)" font-family="Liberation Sans, sans-serif" font-weight="bold" font-size="48.3" text-anchor="end" fill="#000" >0.0</text>
<line x1="249.60" y1="1531.58" x2="266.65" y2="1531.58" stroke="#000" stroke-width="3.0" stroke-linecap="round" />
<line x1="249.60" y1="1505.44" x2="266.65" y2="1505.44" stroke="#000" stroke-width="3.0" stroke-linecap="round" />
<line x1="249.60" y1="1479.30" x2="266.65" y2="1479.30" stroke="#000" stroke-width="3.0" stroke-linecap="round" />
<line x1="232.00" y1="1453.16" x2="266.65" y2="1453.16" stroke="#000" stroke-width="5.6" stroke-linecap="round" />
<text transform="translate(199.50,1470.76) scale(1,1.06)" font-family="Liberation Sans, sans-serif" font-weight="bold" font-size="48.3" text-anchor="end" fill="#000" >2.0</text>
<line x1="249.60" y1="1427.02" x2="266.65" y2="1427.02" stroke="#000" stroke-width="3.0" stroke-linecap="round" />
<line x1="249.60" y1="1400.88" x2="266.65" y2="1400.88" stroke="#000" stroke-width="3.0" stroke-linecap="round" />
<line x1="249.60" y1="1374.74" x2="266.65" y2="1374.74" stroke="#000" stroke-width="3.0" stroke-linecap="round" />
<line x1="232.00" y1="1348.60" x2="266.65" y2="1348.60" stroke="#000" stroke-width="5.6" stroke-linecap="round" />
<text transform="translate(199.50,1366.20) scale(1,1.06)" font-family="Liberation Sans, sans-serif" font-weight="bold" font-size="48.3" text-anchor="end" fill="#000" >4.0</text>
<line x1="249.60" y1="1322.46" x2="266.65" y2="1322.46" stroke="#000" stroke-width="3.0" stroke-linecap="round" />
<line x1="249.60" y1="1296.32" x2="266.65" y2="1296.32" stroke="#000" stroke-width="3.0" stroke-linecap="round" />
<line x1="249.60" y1="1270.18" x2="266.65" y2="1270.18" stroke="#000" stroke-width="3.0" stroke-linecap="round" />
<line x1="232.00" y1="1244.04" x2="266.65" y2="1244.04" stroke="#000" stroke-width="5.6" stroke-linecap="round" />
<text transform="translate(199.50,1261.64) scale(1,1.06)" font-family="Liberation Sans, sans-serif" font-weight="bold" font-size="48.3" text-anchor="end" fill="#000" >6.0</text>
<line x1="249.60" y1="1217.90" x2="266.65" y2="1217.90" stroke="#000" stroke-width="3.0" stroke-linecap="round" />
<line x1="249.60" y1="1191.76" x2="266.65" y2="1191.76" stroke="#000" stroke-width="3.0" stroke-linecap="round" />
<line x1="249.60" y1="1165.62" x2="266.65" y2="1165.62" stroke="#000" stroke-width="3.0" stroke-linecap="round" />
<line x1="232.00" y1="1139.48" x2="266.65" y2="1139.48" stroke="#000" stroke-width="5.6" stroke-linecap="round" />
<text transform="translate(199.50,1157.08) scale(1,1.06)" font-family="Liberation Sans, sans-serif" font-weight="bold" font-size="48.3" text-anchor="end" fill="#000" >8.0</text>
<line x1="249.60" y1="1113.34" x2="266.65" y2="1113.34" stroke="#000" stroke-width="3.0" stroke-linecap="round" />
<line x1="249.60" y1="1087.20" x2="266.65" y2="1087.20" stroke="#000" stroke-width="3.0" stroke-linecap="round" />
<text transform="translate(1050.60,1796.30) scale(1,1.055)" font-family="Liberation Sans, sans-serif" font-weight="bold" font-size="59.7" text-anchor="middle" fill="#000" >Model years</text>
<text transform="translate(263.60,1025.60) scale(1,0.97)" font-family="Liberation Sans, sans-serif" font-weight="bold" font-size="49.3" text-anchor="start" fill="#000" >(b)</text>
<polygon points="317.45,1522.30 325.78,1547.94 352.73,1547.94 330.93,1563.78 339.26,1589.41 317.45,1573.57 295.64,1589.41 303.97,1563.78 282.17,1547.94 309.12,1547.94" fill="#000"/>
<line x1="1036.0" y1="1091" x2="1036.0" y2="1184" stroke="#e9873c" stroke-width="6.5" stroke-linecap="round"/>
<polyline points="317.6,2167.8 318.8,2169.1 320.1,2170.5 321.3,2170.8 322.6,2170.8 323.9,2171.9 325.1,2173.1 326.4,2174.5 327.7,2174.3 328.9,2174.5 330.2,2176.0 331.5,2177.1 332.7,2178.7 334.0,2179.6 335.3,2179.9 336.5,2180.3 337.8,2182.3 339.1,2182.2 340.3,2182.1 341.6,2182.1 342.8,2183.0 344.1,2183.8 345.4,2184.3 346.6,2185.0 347.9,2185.9 349.2,2186.9 350.4,2188.0 351.7,2188.4 353.0,2187.8 354.2,2189.0 355.5,2188.9 356.8,2189.7 358.0,2189.8 359.3,2190.9 360.6,2191.4 361.8,2192.4 363.1,2195.0 364.3,2195.0 365.6,2195.8 366.9,2195.3 368.1,2195.7 369.4,2196.8 370.7,2197.2 371.9,2197.9 373.2,2198.5 374.5,2198.4 375.7,2199.4 377.0,2199.5 378.3,2201.3 379.5,2201.3 380.8,2202.2 382.1,2202.5 383.3,2203.5 384.6,2203.5 385.8,2204.6 387.1,2204.8 388.4,2206.0 389.6,2206.5 390.9,2206.9 392.2,2206.8 393.4,2207.8 394.7,2208.5 396.0,2209.7 397.2,2209.6 398.5,2210.3 399.8,2210.9 401.0,2211.3 402.3,2211.7 403.6,2212.2 404.8,2212.2 406.1,2212.2 407.4,2212.7 408.6,2213.8 409.9,2215.1 411.1,2215.8 412.4,2216.5 413.7,2216.9 414.9,2217.4 416.2,2217.5 417.5,2218.2 418.7,2219.3 420.0,2219.0 421.3,2218.8 422.5,2220.4 423.8,2220.6 425.1,2221.3 426.3,2221.9 427.6,2221.3 428.9,2223.2 430.1,2224.1 431.4,2224.0 432.6,2224.4 433.9,2224.5 435.2,2224.2 436.4,2224.6 437.7,2225.2 439.0,2226.2 440.2,2226.7 441.5,2226.8 442.8,2227.8 444.0,2227.3 445.3,2228.1 446.6,2228.9 447.8,2228.7 449.1,2228.0 450.4,2228.2 451.6,2229.1 452.9,2230.0 454.1,2231.3 455.4,2230.8 456.7,2231.2 457.9,2232.0 459.2,2232.1 460.5,2231.2 461.7,2232.5 463.0,2234.3 464.3,2234.9 465.5,2234.3 466.8,2234.4 468.1,2234.9 469.3,2236.6 470.6,2236.7 471.9,2236.7 473.1,2237.6 474.4,2237.4 475.6,2238.4 476.9,2237.8 478.2,2237.7 479.4,2238.4 480.7,2239.4 482.0,2239.7 483.2,2239.8 484.5,2238.8 485.8,2239.0 487.0,2239.3 488.3,2239.4 489.6,2239.9 490.8,2239.1 492.1,2239.1 493.4,2239.0 494.6,2239.8 495.9,2241.2 497.2,2242.6 498.4,2243.7 499.7,2243.6 500.9,2243.8 502.2,2243.4 503.5,2244.8 504.7,2245.6 506.0,2244.9 507.3,2243.9 508.5,2242.2 509.8,2241.9 511.1,2242.5 512.3,2245.0 513.6,2246.0 514.9,2246.2 516.1,2245.3 517.4,2246.9 518.7,2247.2 519.9,2246.4 521.2,2246.4 522.4,2244.8 523.7,2246.0 525.0,2245.7 526.2,2246.4 527.5,2247.4 528.8,2247.4 530.0,2248.5 531.3,2248.3 532.6,2249.3 533.8,2248.6 535.1,2248.9 536.4,2250.3 537.6,2251.5 538.9,2250.8 540.2,2250.2 541.4,2251.3 542.7,2252.1 543.9,2251.6 545.2,2251.6 546.5,2251.7 547.7,2251.5 549.0,2251.8 550.3,2253.2 551.5,2253.8 552.8,2255.0 554.1,2254.6 555.3,2254.5 556.6,2254.0 557.9,2254.3 559.1,2253.9 560.4,2253.5 561.7,2254.8 562.9,2256.0 564.2,2256.5 565.5,2257.2 566.7,2257.1 568.0,2256.6 569.2,2256.9 570.5,2256.8 571.8,2256.5 573.0,2256.1 574.3,2256.0 575.6,2256.9 576.8,2257.6 578.1,2257.7 579.4,2259.0 580.6,2259.1 581.9,2259.5 583.2,2260.2 584.4,2259.6 585.7,2258.6 587.0,2259.7 588.2,2259.6 589.5,2260.7 590.7,2261.0 592.0,2261.6 593.3,2261.9 594.5,2260.6 595.8,2261.5 597.1,2261.3 598.3,2261.2 599.6,2261.4 600.9,2261.9 602.1,2261.7 603.4,2260.8 604.7,2258.4 605.9,2258.3 607.2,2258.6 608.5,2261.0 609.7,2263.0 611.0,2263.4 612.2,2264.1 613.5,2264.6 614.8,2265.4 616.0,2264.9 617.3,2264.8 618.6,2264.8 619.8,2266.3 621.1,2266.9 622.4,2266.7 623.6,2266.8 624.9,2267.0 626.2,2267.2 627.4,2267.2 628.7,2267.2 630.0,2266.8 631.2,2267.0 632.5,2268.4 633.8,2268.8 635.0,2268.8 636.3,2268.8 637.5,2269.0 638.8,2269.3 640.1,2269.1 641.3,2269.4 642.6,2269.8 643.9,2269.5 645.1,2269.4 646.4,2269.3 647.7,2269.3 648.9,2270.4 650.2,2269.4 651.5,2270.0 652.7,2270.3 654.0,2270.5 655.3,2271.1 656.5,2272.1 657.8,2272.2 659.0,2272.2 660.3,2272.1 661.6,2272.3 662.8,2273.1 664.1,2272.9 665.4,2272.5 666.6,2272.2 667.9,2272.3 669.2,2272.2 670.4,2273.5 671.7,2274.0 673.0,2273.9 674.2,2274.9 675.5,2274.4 676.8,2274.9 678.0,2275.3 679.3,2274.3 680.5,2273.7 681.8,2273.8 683.1,2274.8 684.3,2275.7 685.6,2274.8 686.9,2275.2 688.1,2274.1 689.4,2272.7 690.7,2271.9 691.9,2272.4 693.2,2272.8 694.5,2274.0 695.7,2274.5 697.0,2275.7 698.3,2277.3 699.5,2278.6 700.8,2277.8 702.0,2276.6 703.3,2276.6 704.6,2276.4 705.8,2278.0 707.1,2278.2 708.4,2277.6 709.6,2278.3 710.9,2278.5 712.2,2277.6 713.4,2277.6 714.7,2277.9 716.0,2278.3 717.2,2278.6 718.5,2278.6 719.8,2279.0 721.0,2278.8 722.3,2278.6 723.6,2279.9 724.8,2280.1 726.1,2280.3 727.3,2279.3 728.6,2279.6 729.9,2280.4 731.1,2279.8 732.4,2280.8 733.7,2280.6 734.9,2281.0 736.2,2281.0 737.5,2281.2 738.7,2281.9 740.0,2281.5 741.3,2282.1 742.5,2280.9 743.8,2279.5 745.1,2279.2 746.3,2278.3 747.6,2279.1 748.8,2280.9 750.1,2282.4 751.4,2281.6 752.6,2282.3 753.9,2283.4 755.2,2283.8 756.4,2283.2 757.7,2282.8 759.0,2282.7 760.2,2282.2 761.5,2282.5 762.8,2282.7 764.0,2282.9 765.3,2283.8 766.6,2283.6 767.8,2282.8 769.1,2283.8 770.3,2283.2 771.6,2283.3 772.9,2283.6 774.1,2283.7 775.4,2283.4 776.7,2283.8 777.9,2285.3 779.2,2284.8 780.5,2284.8 781.7,2285.5 783.0,2285.8 784.3,2286.0 785.5,2286.3 786.8,2284.9 788.1,2284.7 789.3,2285.2 790.6,2285.8 791.8,2286.6 793.1,2286.7 794.4,2286.4 795.6,2286.4 796.9,2286.4 798.2,2286.6 799.4,2287.1 800.7,2286.8 802.0,2286.4 803.2,2285.9 804.5,2286.2 805.8,2286.0 807.0,2285.7 808.3,2286.1 809.6,2287.0 810.8,2287.4 812.1,2287.9 813.4,2287.3 814.6,2287.3 815.9,2287.0 817.1,2287.7 818.4,2287.4 819.7,2287.5 820.9,2287.9 822.2,2288.6 823.5,2287.9 824.7,2287.4 826.0,2288.1 827.3,2287.5 828.5,2288.0 829.8,2287.8 831.1,2287.9 832.3,2287.1 833.6,2288.0 834.9,2287.9 836.1,2287.7 837.4,2289.2 838.6,2289.3 839.9,2291.0 841.2,2290.3 842.4,2289.5 843.7,2289.3 845.0,2290.0 846.2,2289.6 847.5,2289.6 848.8,2289.7 850.0,2289.0 851.3,2289.1 852.6,2288.9 853.8,2288.4 855.1,2289.2 856.4,2289.7 857.6,2289.6 858.9,2289.1 860.1,2288.2 861.4,2289.0 862.7,2289.2 863.9,2288.5 865.2,2289.0 866.5,2288.5 867.7,2289.0 869.0,2289.5 870.3,2290.0 871.5,2290.2 872.8,2290.3 874.1,2289.7 875.3,2289.8 876.6,2289.8 877.9,2290.0 879.1,2290.5 880.4,2291.0 881.7,2291.8 882.9,2290.1 884.2,2290.7 885.4,2290.8 886.7,2292.2 888.0,2292.4 889.2,2291.1 890.5,2291.5 891.8,2291.3 893.0,2292.0 894.3,2291.3 895.6,2291.5 896.8,2291.6 898.1,2291.7 899.4,2291.6 900.6,2290.8 901.9,2291.7 903.2,2292.5 904.4,2292.5 905.7,2292.0 906.9,2292.4 908.2,2292.8 909.5,2292.8 910.7,2292.8 912.0,2293.7 913.3,2292.9 914.5,2292.7 915.8,2291.9 917.1,2292.1 918.3,2292.3 919.6,2292.3 920.9,2292.4 922.1,2293.9 923.4,2293.8 924.7,2293.8 925.9,2295.1 927.2,2294.7 928.4,2293.5 929.7,2294.0 931.0,2293.7 932.2,2294.9 933.5,2294.1 934.8,2294.0 936.0,2293.3 937.3,2293.9 938.6,2293.7 939.8,2294.1 941.1,2294.2 942.4,2294.1 943.6,2295.0 944.9,2295.5 946.2,2295.3 947.4,2294.7 948.7,2294.3 950.0,2294.8 951.2,2296.3 952.5,2295.6 953.7,2295.1 955.0,2294.8 956.3,2294.5 957.5,2294.3 958.8,2294.7 960.1,2295.9 961.3,2295.8 962.6,2295.5 963.9,2294.7 965.1,2295.2 966.4,2295.5 967.7,2295.0 968.9,2294.7 970.2,2294.9 971.5,2295.2 972.7,2294.5 974.0,2293.6 975.2,2293.3 976.5,2294.2 977.8,2295.2 979.0,2297.1 980.3,2296.4 981.6,2296.2 982.8,2297.1 984.1,2296.7 985.4,2297.5 986.6,2297.1 987.9,2297.0 989.2,2296.7 990.4,2296.0 991.7,2295.8 993.0,2297.5 994.2,2297.6 995.5,2297.7 996.7,2298.0 998.0,2297.9 999.3,2298.2 1000.5,2297.7 1001.8,2297.4 1003.1,2297.9 1004.3,2297.4 1005.6,2296.6 1006.9,2296.8 1008.1,2296.7 1009.4,2297.3 1010.7,2296.9 1011.9,2296.5 1013.2,2296.7 1014.5,2297.8 1015.7,2297.6 1017.0,2297.7 1018.2,2297.6 1019.5,2297.7 1020.8,2298.1 1022.0,2298.7 1023.3,2297.3 1024.6,2298.2 1025.8,2297.9 1027.1,2297.6 1028.4,2298.9 1029.6,2298.3 1030.9,2299.1 1032.2,2299.1 1033.4,2298.0 1034.7,2298.2 1036.0,2298.7 1037.2,2299.0 1038.5,2298.6 1039.8,2299.7 1041.0,2300.1 1042.3,2299.0 1043.5,2299.3 1044.8,2298.4 1046.1,2297.8 1047.3,2297.6 1048.6,2297.3 1049.9,2297.1 1051.1,2297.5 1052.4,2297.9 1053.7,2297.6 1054.9,2297.7 1056.2,2297.1 1057.5,2297.8 1058.7,2297.5 1060.0,2297.8 1061.3,2297.5 1062.5,2297.4 1063.8,2297.8 1065.0,2297.3 1066.3,2299.0 1067.6,2298.4 1068.8,2297.7 1070.1,2296.3 1071.4,2296.3 1072.6,2296.6 1073.9,2296.9 1075.2,2296.9 1076.4,2297.6 1077.7,2298.5 1079.0,2298.3 1080.2,2297.8 1081.5,2297.4 1082.8,2297.1 1084.0,2296.4 1085.3,2294.3 1086.5,2292.6 1087.8,2293.7 1089.1,2295.7 1090.3,2297.1 1091.6,2299.7 1092.9,2301.6 1094.1,2302.6 1095.4,2303.1 1096.7,2301.6 1097.9,2300.3 1099.2,2299.4 1100.5,2299.2 1101.7,2300.0 1103.0,2300.2 1104.3,2299.2 1105.5,2299.1 1106.8,2298.9 1108.0,2299.6 1109.3,2299.8 1110.6,2300.3 1111.8,2300.0 1113.1,2298.9 1114.4,2299.6 1115.6,2299.8 1116.9,2300.2 1118.2,2299.4 1119.4,2299.7 1120.7,2299.5 1122.0,2299.4 1123.2,2299.9 1124.5,2300.2 1125.8,2299.8 1127.0,2299.1 1128.3,2298.2 1129.6,2298.8 1130.8,2300.1 1132.1,2300.2 1133.3,2299.1 1134.6,2299.2 1135.9,2300.0 1137.1,2301.2 1138.4,2301.6 1139.7,2301.5 1140.9,2301.3 1142.2,2300.5 1143.5,2300.3 1144.7,2300.3 1146.0,2300.1 1147.3,2300.4 1148.5,2300.3 1149.8,2300.7 1151.1,2301.6 1152.3,2301.7 1153.6,2301.6 1154.8,2301.2 1156.1,2300.3 1157.4,2300.5 1158.6,2301.0 1159.9,2300.4 1161.2,2301.3 1162.4,2301.0 1163.7,2301.2 1165.0,2301.0 1166.2,2300.3 1167.5,2301.8 1168.8,2300.9 1170.0,2301.5 1171.3,2301.0 1172.6,2301.3 1173.8,2300.8 1175.1,2300.7 1176.3,2301.4 1177.6,2302.2 1178.9,2300.8 1180.1,2299.7 1181.4,2299.0 1182.7,2297.8 1183.9,2298.8 1185.2,2299.4 1186.5,2300.8 1187.7,2301.5 1189.0,2302.2 1190.3,2302.1 1191.5,2301.2 1192.8,2301.5 1194.1,2300.3 1195.3,2299.9 1196.6,2299.5 1197.9,2298.9 1199.1,2298.8 1200.4,2300.6 1201.6,2301.4 1202.9,2301.0 1204.2,2301.2 1205.4,2302.2 1206.7,2301.8 1208.0,2301.9 1209.2,2301.6 1210.5,2300.8 1211.8,2300.9 1213.0,2301.5 1214.3,2301.7 1215.6,2301.7 1216.8,2300.6 1218.1,2301.8 1219.4,2302.3 1220.6,2302.7 1221.9,2303.1 1223.1,2302.5 1224.4,2302.0 1225.7,2302.2 1226.9,2303.1 1228.2,2301.8 1229.5,2301.8 1230.7,2301.6 1232.0,2302.1 1233.3,2303.0 1234.5,2302.5 1235.8,2301.7 1237.1,2302.0 1238.3,2302.0 1239.6,2301.3 1240.9,2302.2 1242.1,2301.9 1243.4,2302.3 1244.6,2301.1 1245.9,2301.2 1247.2,2299.3 1248.4,2299.7 1249.7,2299.1 1251.0,2301.3 1252.2,2301.9 1253.5,2301.5 1254.8,2301.9 1256.0,2302.4 1257.3,2302.0 1258.6,2302.0 1259.8,2302.4 1261.1,2302.5 1262.4,2300.9 1263.6,2301.4 1264.9,2302.2 1266.1,2302.6 1267.4,2303.3 1268.7,2302.8 1269.9,2304.2 1271.2,2304.2 1272.5,2304.0 1273.7,2304.3 1275.0,2304.4 1276.3,2304.1 1277.5,2303.5 1278.8,2304.1 1280.1,2304.2 1281.3,2303.0 1282.6,2302.7 1283.9,2303.5 1285.1,2303.8 1286.4,2304.1 1287.7,2304.5 1288.9,2304.3 1290.2,2304.8 1291.4,2303.4 1292.7,2302.3 1294.0,2302.2 1295.2,2303.0 1296.5,2304.2 1297.8,2305.5 1299.0,2305.2 1300.3,2305.9 1301.6,2305.9 1302.8,2305.0 1304.1,2305.1 1305.4,2306.4 1306.6,2306.5 1307.9,2305.9 1309.2,2304.5 1310.4,2304.6 1311.7,2304.7 1312.9,2305.3 1314.2,2306.8 1315.5,2307.0 1316.7,2306.8 1318.0,2306.1 1319.3,2305.6 1320.5,2305.8 1321.8,2305.9 1323.1,2307.8 1324.3,2307.2 1325.6,2306.6 1326.9,2307.2 1328.1,2307.1 1329.4,2306.2 1330.7,2307.1 1331.9,2306.8 1333.2,2306.0 1334.4,2306.5 1335.7,2306.9 1337.0,2306.6 1338.2,2307.1 1339.5,2307.4 1340.8,2306.7 1342.0,2305.6 1343.3,2304.8 1344.6,2305.5 1345.8,2306.7 1347.1,2307.3 1348.4,2307.9 1349.6,2308.5 1350.9,2307.9 1352.2,2308.1 1353.4,2306.8 1354.7,2307.2 1356.0,2307.3 1357.2,2307.1 1358.5,2306.8 1359.7,2306.3 1361.0,2306.7 1362.3,2307.5 1363.5,2307.1 1364.8,2307.4 1366.1,2306.9 1367.3,2307.1 1368.6,2306.6 1369.9,2307.0 1371.1,2306.9 1372.4,2307.2 1373.7,2306.8 1374.9,2306.3 1376.2,2306.5 1377.5,2307.3 1378.7,2308.2 1380.0,2307.6 1381.2,2307.9 1382.5,2308.1 1383.8,2308.0 1385.0,2306.8 1386.3,2307.2 1387.6,2306.7 1388.8,2307.4 1390.1,2307.1 1391.4,2305.9 1392.6,2302.5 1393.9,2302.1 1395.2,2303.1 1396.4,2304.0 1397.7,2306.3 1399.0,2307.2 1400.2,2307.3 1401.5,2307.0 1402.7,2306.6 1404.0,2306.7 1405.3,2308.7 1406.5,2308.3 1407.8,2308.1 1409.1,2307.5 1410.3,2307.2 1411.6,2307.0 1412.9,2306.7 1414.1,2307.5 1415.4,2307.4 1416.7,2307.9 1417.9,2307.2 1419.2,2307.8 1420.5,2307.7 1421.7,2308.1 1423.0,2307.8 1424.2,2307.3 1425.5,2308.1 1426.8,2307.7 1428.0,2307.6 1429.3,2307.1 1430.6,2307.5 1431.8,2307.4 1433.1,2307.7 1434.4,2307.9 1435.6,2307.4 1436.9,2306.8 1438.2,2307.4 1439.4,2308.1 1440.7,2308.3 1442.0,2307.5 1443.2,2307.9 1444.5,2308.0 1445.8,2307.8 1447.0,2307.2 1448.3,2305.4 1449.5,2303.8 1450.8,2303.5 1452.1,2303.8 1453.3,2304.7 1454.6,2306.3 1455.9,2307.4 1457.1,2306.7 1458.4,2306.8 1459.7,2307.6 1460.9,2307.6 1462.2,2307.7 1463.5,2307.1 1464.7,2307.9 1466.0,2308.8 1467.3,2308.3 1468.5,2307.7 1469.8,2307.1 1471.0,2307.8 1472.3,2307.8 1473.6,2307.4 1474.8,2308.2 1476.1,2308.4 1477.4,2308.4 1478.6,2307.2 1479.9,2307.3 1481.2,2307.8 1482.4,2307.1 1483.7,2307.8 1485.0,2308.5 1486.2,2308.7 1487.5,2307.9 1488.8,2307.4 1490.0,2308.0 1491.3,2308.3 1492.5,2308.7 1493.8,2308.9 1495.1,2308.3 1496.3,2307.8 1497.6,2306.6 1498.9,2307.4 1500.1,2308.7 1501.4,2307.9 1502.7,2307.5 1503.9,2307.8 1505.2,2307.8 1506.5,2306.7 1507.7,2305.9 1509.0,2304.4 1510.3,2304.5 1511.5,2303.3 1512.8,2304.4 1514.1,2306.7 1515.3,2308.3 1516.6,2309.0 1517.8,2309.3 1519.1,2307.9 1520.4,2307.4 1521.6,2307.0 1522.9,2307.0 1524.2,2308.6 1525.4,2307.2 1526.7,2307.5 1528.0,2306.2 1529.2,2306.0 1530.5,2305.3 1531.8,2304.1 1533.0,2305.8 1534.3,2306.7 1535.6,2308.3 1536.8,2308.7 1538.1,2308.3 1539.3,2308.1 1540.6,2308.1 1541.9,2308.5 1543.1,2308.6 1544.4,2309.8 1545.7,2309.2 1546.9,2308.7 1548.2,2308.3 1549.5,2308.0 1550.7,2307.6 1552.0,2307.5 1553.3,2308.6 1554.5,2308.7 1555.8,2308.5 1557.1,2308.3 1558.3,2308.0 1559.6,2307.2 1560.8,2307.1 1562.1,2307.1 1563.4,2308.0 1564.6,2308.4 1565.9,2309.0 1567.2,2308.8 1568.4,2309.0 1569.7,2309.2 1571.0,2309.3 1572.2,2309.4 1573.5,2309.3 1574.8,2310.3 1576.0,2310.0 1577.3,2309.5 1578.6,2309.9 1579.8,2309.4 1581.1,2309.2 1582.3,2309.7 1583.6,2309.1 1584.9,2307.9 1586.1,2309.1 1587.4,2310.3 1588.7,2309.5 1589.9,2309.5 1591.2,2310.3 1592.5,2309.3 1593.7,2309.4 1595.0,2309.2 1596.3,2309.7 1597.5,2309.0 1598.8,2310.2 1600.1,2310.3 1601.3,2310.7 1602.6,2310.5 1603.9,2309.5 1605.1,2309.9 1606.4,2309.5 1607.6,2310.0 1608.9,2309.9 1610.2,2310.1 1611.4,2310.3 1612.7,2310.9 1614.0,2311.3 1615.2,2310.6 1616.5,2310.7 1617.8,2311.6 1619.0,2311.6 1620.3,2310.9 1621.6,2310.9 1622.8,2310.7 1624.1,2311.3 1625.4,2311.2 1626.6,2311.3 1627.9,2312.4 1629.1,2311.1 1630.4,2310.5 1631.7,2309.8 1632.9,2309.4 1634.2,2310.6 1635.5,2310.9 1636.7,2311.9 1638.0,2310.5 1639.3,2310.3 1640.5,2311.4 1641.8,2311.9 1643.1,2312.1 1644.3,2312.2 1645.6,2311.8 1646.9,2311.6 1648.1,2311.5 1649.4,2311.8 1650.6,2311.5 1651.9,2311.6 1653.2,2312.2 1654.4,2310.9 1655.7,2309.8 1657.0,2309.1 1658.2,2307.7 1659.5,2307.3 1660.8,2309.4 1662.0,2310.7 1663.3,2311.2 1664.6,2312.2 1665.8,2313.5 1667.1,2312.2 1668.4,2311.5 1669.6,2311.0 1670.9,2309.6 1672.2,2309.6 1673.4,2308.9 1674.7,2309.0 1675.9,2310.6 1677.2,2311.1 1678.5,2311.5 1679.7,2312.0 1681.0,2313.5 1682.3,2311.8 1683.5,2312.3 1684.8,2313.1 1686.1,2313.3 1687.3,2314.1 1688.6,2313.8 1689.9,2313.4 1691.1,2313.1 1692.4,2312.5 1693.7,2313.6 1694.9,2312.7 1696.2,2312.7 1697.4,2312.6 1698.7,2312.3 1700.0,2311.4 1701.2,2311.9 1702.5,2312.5 1703.8,2312.7 1705.0,2312.9 1706.3,2311.9 1707.6,2310.5 1708.8,2310.4 1710.1,2311.3 1711.4,2311.7 1712.6,2311.9 1713.9,2312.3 1715.2,2313.5 1716.4,2314.2 1717.7,2313.6 1718.9,2313.8 1720.2,2314.3 1721.5,2314.9 1722.7,2314.2 1724.0,2314.0 1725.3,2314.8 1726.5,2315.9 1727.8,2316.1 1729.1,2314.7 1730.3,2314.8 1731.6,2314.5 1732.9,2314.4 1734.1,2314.0 1735.4,2314.0 1736.7,2314.2 1737.9,2315.3 1739.2,2315.4 1740.4,2315.4 1741.7,2315.1 1743.0,2314.5 1744.2,2314.5 1745.5,2315.3 1746.8,2315.6 1748.0,2316.4 1749.3,2316.0 1750.6,2315.6 1751.8,2314.5 1753.1,2314.9 1754.4,2314.1 1755.6,2315.4 1756.9,2315.0 1758.2,2315.1 1759.4,2314.4 1760.7,2314.5 1762.0,2314.4 1763.2,2315.4 1764.5,2315.6 1765.7,2314.9 1767.0,2314.1 1768.3,2314.7 1769.5,2314.8 1770.8,2314.6 1772.1,2315.4 1773.3,2315.4 1774.6,2315.7 1775.9,2315.4 1777.1,2315.3 1778.4,2315.3 1779.7,2314.7 1780.9,2315.6 1782.2,2316.0 1783.5,2315.1 1784.7,2315.6 1786.0,2316.5 1787.2,2316.5 1788.5,2317.2 1789.8,2316.7 1791.0,2316.5 1792.3,2315.7 1793.6,2315.4 1794.8,2314.7 1796.1,2314.8 1797.4,2315.5 1798.6,2316.0 1799.9,2316.7 1801.2,2316.5 1802.4,2315.8 1803.7,2316.0 1805.0,2315.6 1806.2,2315.7 1807.5,2314.6 1808.7,2312.4 1810.0,2310.2 1811.3,2310.8 1812.5,2312.9 1813.8,2314.2 1815.1,2315.5 1816.3,2316.2 1817.6,2316.5 1818.9,2316.4 1820.1,2315.7 1821.4,2315.5 1822.7,2316.2 1823.9,2318.2 1825.2,2320.0 1826.5,2320.4 1827.7,2319.3 1829.0,2318.1 1830.3,2317.2 1831.5,2317.0 1832.8,2316.8 1834.0,2315.4 1835.3,2316.0" fill="none" stroke="#e6731e" stroke-width="7.5" stroke-linejoin="round" stroke-linecap="round"/>
<line x1="317.00" y1="2335.71" x2="1832.00" y2="2335.71" stroke="#b0172a" stroke-width="8" stroke-linecap="round" stroke-dasharray="10.4 15.477"/>
<line x1="266.65" y1="2040.70" x2="266.65" y2="2563.40" stroke="#000" stroke-width="5.4" stroke-linecap="round" />
<line x1="266.65" y1="2563.40" x2="1834.40" y2="2563.40" stroke="#000" stroke-width="5.4" stroke-linecap="round" />
<line x1="266.73" y1="2563.40" x2="266.73" y2="2581.00" stroke="#000" stroke-width="3.0" stroke-linecap="round" />
<line x1="317.30" y1="2563.40" x2="317.30" y2="2598.20" stroke="#000" stroke-width="5.6" stroke-linecap="round" />
<text transform="translate(317.30,2668.30) scale(1,1.06)" font-family="Liberation Sans, sans-serif" font-weight="bold" font-size="48.3" text-anchor="middle" fill="#000" >0</text>
<line x1="367.87" y1="2563.40" x2="367.87" y2="2581.00" stroke="#000" stroke-width="3.0" stroke-linecap="round" />
<line x1="418.44" y1="2563.40" x2="418.44" y2="2581.00" stroke="#000" stroke-width="3.0" stroke-linecap="round" />
<line x1="469.01" y1="2563.40" x2="469.01" y2="2581.00" stroke="#000" stroke-width="3.0" stroke-linecap="round" />
<line x1="519.58" y1="2563.40" x2="519.58" y2="2581.00" stroke="#000" stroke-width="3.0" stroke-linecap="round" />
<line x1="570.15" y1="2563.40" x2="570.15" y2="2598.20" stroke="#000" stroke-width="5.6" stroke-linecap="round" />
<text transform="translate(570.15,2668.30) scale(1,1.06)" font-family="Liberation Sans, sans-serif" font-weight="bold" font-size="48.3" text-anchor="middle" fill="#000" >50</text>
<line x1="620.72" y1="2563.40" x2="620.72" y2="2581.00" stroke="#000" stroke-width="3.0" stroke-linecap="round" />
<line x1="671.29" y1="2563.40" x2="671.29" y2="2581.00" stroke="#000" stroke-width="3.0" stroke-linecap="round" />
<line x1="721.86" y1="2563.40" x2="721.86" y2="2581.00" stroke="#000" stroke-width="3.0" stroke-linecap="round" />
<line x1="772.43" y1="2563.40" x2="772.43" y2="2581.00" stroke="#000" stroke-width="3.0" stroke-linecap="round" />
<line x1="823.00" y1="2563.40" x2="823.00" y2="2598.20" stroke="#000" stroke-width="5.6" stroke-linecap="round" />
<text transform="translate(823.00,2668.30) scale(1,1.06)" font-family="Liberation Sans, sans-serif" font-weight="bold" font-size="48.3" text-anchor="middle" fill="#000" >100</text>
<line x1="873.57" y1="2563.40" x2="873.57" y2="2581.00" stroke="#000" stroke-width="3.0" stroke-linecap="round" />
<line x1="924.14" y1="2563.40" x2="924.14" y2="2581.00" stroke="#000" stroke-width="3.0" stroke-linecap="round" />
<line x1="974.71" y1="2563.40" x2="974.71" y2="2581.00" stroke="#000" stroke-width="3.0" stroke-linecap="round" />
<line x1="1025.28" y1="2563.40" x2="1025.28" y2="2581.00" stroke="#000" stroke-width="3.0" stroke-linecap="round" />
<line x1="1075.85" y1="2563.40" x2="1075.85" y2="2598.20" stroke="#000" stroke-width="5.6" stroke-linecap="round" />
<text transform="translate(1075.85,2668.30) scale(1,1.06)" font-family="Liberation Sans, sans-serif" font-weight="bold" font-size="48.3" text-anchor="middle" fill="#000" >150</text>
<line x1="1126.42" y1="2563.40" x2="1126.42" y2="2581.00" stroke="#000" stroke-width="3.0" stroke-linecap="round" />
<line x1="1176.99" y1="2563.40" x2="1176.99" y2="2581.00" stroke="#000" stroke-width="3.0" stroke-linecap="round" />
<line x1="1227.56" y1="2563.40" x2="1227.56" y2="2581.00" stroke="#000" stroke-width="3.0" stroke-linecap="round" />
<line x1="1278.13" y1="2563.40" x2="1278.13" y2="2581.00" stroke="#000" stroke-width="3.0" stroke-linecap="round" />
<line x1="1328.70" y1="2563.40" x2="1328.70" y2="2598.20" stroke="#000" stroke-width="5.6" stroke-linecap="round" />
<text transform="translate(1328.70,2668.30) scale(1,1.06)" font-family="Liberation Sans, sans-serif" font-weight="bold" font-size="48.3" text-anchor="middle" fill="#000" >200</text>
<line x1="1379.27" y1="2563.40" x2="1379.27" y2="2581.00" stroke="#000" stroke-width="3.0" stroke-linecap="round" />
<line x1="1429.84" y1="2563.40" x2="1429.84" y2="2581.00" stroke="#000" stroke-width="3.0" stroke-linecap="round" />
<line x1="1480.41" y1="2563.40" x2="1480.41" y2="2581.00" stroke="#000" stroke-width="3.0" stroke-linecap="round" />
<line x1="1530.98" y1="2563.40" x2="1530.98" y2="2581.00" stroke="#000" stroke-width="3.0" stroke-linecap="round" />
<line x1="1581.55" y1="2563.40" x2="1581.55" y2="2598.20" stroke="#000" stroke-width="5.6" stroke-linecap="round" />
<text transform="translate(1581.55,2668.30) scale(1,1.06)" font-family="Liberation Sans, sans-serif" font-weight="bold" font-size="48.3" text-anchor="middle" fill="#000" >250</text>
<line x1="1632.12" y1="2563.40" x2="1632.12" y2="2581.00" stroke="#000" stroke-width="3.0" stroke-linecap="round" />
<line x1="1682.69" y1="2563.40" x2="1682.69" y2="2581.00" stroke="#000" stroke-width="3.0" stroke-linecap="round" />
<line x1="1733.26" y1="2563.40" x2="1733.26" y2="2581.00" stroke="#000" stroke-width="3.0" stroke-linecap="round" />
<line x1="1783.83" y1="2563.40" x2="1783.83" y2="2581.00" stroke="#000" stroke-width="3.0" stroke-linecap="round" />
<line x1="1834.40" y1="2563.40" x2="1834.40" y2="2598.20" stroke="#000" stroke-width="5.6" stroke-linecap="round" />
<text transform="translate(1834.40,2668.30) scale(1,1.06)" font-family="Liberation Sans, sans-serif" font-weight="bold" font-size="48.3" text-anchor="middle" fill="#000" >300</text>
<line x1="232.00" y1="2563.40" x2="266.65" y2="2563.40" stroke="#000" stroke-width="5.6" stroke-linecap="round" />
<text transform="translate(199.50,2581.00) scale(1,1.06)" font-family="Liberation Sans, sans-serif" font-weight="bold" font-size="48.3" text-anchor="end" fill="#000" >0.00</text>
<line x1="249.60" y1="2542.49" x2="266.65" y2="2542.49" stroke="#000" stroke-width="3.0" stroke-linecap="round" />
<line x1="249.60" y1="2521.58" x2="266.65" y2="2521.58" stroke="#000" stroke-width="3.0" stroke-linecap="round" />
<line x1="249.60" y1="2500.68" x2="266.65" y2="2500.68" stroke="#000" stroke-width="3.0" stroke-linecap="round" />
<line x1="249.60" y1="2479.77" x2="266.65" y2="2479.77" stroke="#000" stroke-width="3.0" stroke-linecap="round" />
<line x1="232.00" y1="2458.86" x2="266.65" y2="2458.86" stroke="#000" stroke-width="5.6" stroke-linecap="round" />
<text transform="translate(199.50,2476.46) scale(1,1.06)" font-family="Liberation Sans, sans-serif" font-weight="bold" font-size="48.3" text-anchor="end" fill="#000" >0.10</text>
<line x1="249.60" y1="2437.95" x2="266.65" y2="2437.95" stroke="#000" stroke-width="3.0" stroke-linecap="round" />
<line x1="249.60" y1="2417.04" x2="266.65" y2="2417.04" stroke="#000" stroke-width="3.0" stroke-linecap="round" />
<line x1="249.60" y1="2396.14" x2="266.65" y2="2396.14" stroke="#000" stroke-width="3.0" stroke-linecap="round" />
<line x1="249.60" y1="2375.23" x2="266.65" y2="2375.23" stroke="#000" stroke-width="3.0" stroke-linecap="round" />
<line x1="232.00" y1="2354.32" x2="266.65" y2="2354.32" stroke="#000" stroke-width="5.6" stroke-linecap="round" />
<text transform="translate(199.50,2371.92) scale(1,1.06)" font-family="Liberation Sans, sans-serif" font-weight="bold" font-size="48.3" text-anchor="end" fill="#000" >0.20</text>
<line x1="249.60" y1="2333.41" x2="266.65" y2="2333.41" stroke="#000" stroke-width="3.0" stroke-linecap="round" />
<line x1="249.60" y1="2312.50" x2="266.65" y2="2312.50" stroke="#000" stroke-width="3.0" stroke-linecap="round" />
<line x1="249.60" y1="2291.60" x2="266.65" y2="2291.60" stroke="#000" stroke-width="3.0" stroke-linecap="round" />
<line x1="249.60" y1="2270.69" x2="266.65" y2="2270.69" stroke="#000" stroke-width="3.0" stroke-linecap="round" />
<line x1="232.00" y1="2249.78" x2="266.65" y2="2249.78" stroke="#000" stroke-width="5.6" stroke-linecap="round" />
<text transform="translate(199.50,2267.38) scale(1,1.06)" font-family="Liberation Sans, sans-serif" font-weight="bold" font-size="48.3" text-anchor="end" fill="#000" >0.30</text>
<line x1="249.60" y1="2228.87" x2="266.65" y2="2228.87" stroke="#000" stroke-width="3.0" stroke-linecap="round" />
<line x1="249.60" y1="2207.96" x2="266.65" y2="2207.96" stroke="#000" stroke-width="3.0" stroke-linecap="round" />
<line x1="249.60" y1="2187.06" x2="266.65" y2="2187.06" stroke="#000" stroke-width="3.0" stroke-linecap="round" />
<line x1="249.60" y1="2166.15" x2="266.65" y2="2166.15" stroke="#000" stroke-width="3.0" stroke-linecap="round" />
<line x1="232.00" y1="2145.24" x2="266.65" y2="2145.24" stroke="#000" stroke-width="5.6" stroke-linecap="round" />
<text transform="translate(199.50,2162.84) scale(1,1.06)" font-family="Liberation Sans, sans-serif" font-weight="bold" font-size="48.3" text-anchor="end" fill="#000" >0.40</text>
<line x1="249.60" y1="2124.33" x2="266.65" y2="2124.33" stroke="#000" stroke-width="3.0" stroke-linecap="round" />
<line x1="249.60" y1="2103.42" x2="266.65" y2="2103.42" stroke="#000" stroke-width="3.0" stroke-linecap="round" />
<line x1="249.60" y1="2082.52" x2="266.65" y2="2082.52" stroke="#000" stroke-width="3.0" stroke-linecap="round" />
<line x1="249.60" y1="2061.61" x2="266.65" y2="2061.61" stroke="#000" stroke-width="3.0" stroke-linecap="round" />
<line x1="232.00" y1="2040.70" x2="266.65" y2="2040.70" stroke="#000" stroke-width="5.6" stroke-linecap="round" />
<text transform="translate(199.50,2058.30) scale(1,1.06)" font-family="Liberation Sans, sans-serif" font-weight="bold" font-size="48.3" text-anchor="end" fill="#000" >0.50</text>
<text transform="translate(1050.60,2749.70) scale(1,1.055)" font-family="Liberation Sans, sans-serif" font-weight="bold" font-size="59.7" text-anchor="middle" fill="#000" >Model years</text>
<text transform="translate(263.60,1961.60) scale(1,0.97)" font-family="Liberation Sans, sans-serif" font-weight="bold" font-size="49.3" text-anchor="start" fill="#000" >(c)</text>
<polygon points="317.45,2123.80 325.78,2149.44 352.73,2149.44 330.93,2165.28 339.26,2190.91 317.45,2175.07 295.64,2190.91 303.97,2165.28 282.17,2149.44 309.12,2149.44" fill="#000"/>
<text transform="translate(289.00,253.60) scale(1,1.07)" font-family="Liberation Serif, serif" font-weight="bold" font-size="40.95" text-anchor="start" fill="#ff0000" >RETRO steady state</text>
<text transform="translate(361.00,582.60) scale(1,1.03)" font-family="Liberation Serif, serif" font-weight="bold" font-size="41" text-anchor="start" fill="#000" >CTL</text>
<text transform="translate(289.00,1160.50) scale(1,1.07)" font-family="Liberation Serif, serif" font-weight="bold" font-size="40.95" text-anchor="start" fill="#ff0000" >RETRO steady <tspan dx="0.8" stroke="#ff0000" stroke-width="1.1" stroke-linejoin="round">state</tspan></text>
<text transform="translate(361.00,1569.80) scale(1,1.03)" font-family="Liberation Serif, serif" font-weight="bold" font-size="41" text-anchor="start" fill="#000" >CTL</text>
<text transform="translate(289.00,2387.60) scale(1,1.07)" font-family="Liberation Serif, serif" font-weight="bold" font-size="40.95" text-anchor="start" fill="#ff0000" >RETRO steady state</text>
<text transform="translate(361.00,2139.20) scale(1,1.03)" font-family="Liberation Serif, serif" font-weight="bold" font-size="41" text-anchor="start" fill="#000" >CTL</text>
<g transform="translate(78.5,545.1) rotate(-90)">
<text transform="translate(-4.4,0) scale(1,1.08)" font-family="Liberation Sans, sans-serif" font-weight="bold" font-size="60" fill="#000">F</text>
<text transform="translate(32,12.8) scale(1,1.08)" font-family="Liberation Sans, sans-serif" font-weight="bold" font-size="36" fill="#000">toa</text>
<text transform="translate(104,0) scale(1,1.0)" font-family="Liberation Sans, sans-serif" font-weight="bold" font-size="60" fill="#000">(</text>
<text transform="translate(124,0) scale(1,1.08)" font-family="Liberation Sans, sans-serif" font-weight="bold" font-size="60" fill="#000">W m</text>
<text transform="translate(249.5,-28.9) scale(1,1.08)" font-family="Liberation Sans, sans-serif" font-weight="bold" font-size="37" fill="#000">-2</text>
<text transform="translate(282,0) scale(1,1.0)" font-family="Liberation Sans, sans-serif" font-weight="bold" font-size="60" fill="#000">)</text>
</g>
<g transform="translate(89.6,1593.5) rotate(-90)">
<text transform="translate(-4.4,0) scale(1,1.08)" font-family="Liberation Sans, sans-serif" font-weight="bold" font-size="59.6" fill="#000">Precip</text>
<text transform="translate(194.4,0) scale(1,1.0)" font-family="Liberation Sans, sans-serif" font-weight="bold" font-size="59.6" fill="#000">(</text>
<text transform="translate(214.2,0) scale(1,1.08)" font-family="Liberation Sans, sans-serif" font-weight="bold" font-size="59.6" fill="#000">mm d</text>
<text transform="translate(378.5,-29.3) scale(1,1.08)" font-family="Liberation Sans, sans-serif" font-weight="bold" font-size="37" fill="#000">-1</text>
<text transform="translate(414.5,0) scale(1,1.0)" font-family="Liberation Sans, sans-serif" font-weight="bold" font-size="60" fill="#000">)</text>
</g>
<g transform="translate(63.5,2519.5) rotate(-90)">
<text transform="translate(-2.5,0) scale(1,1.055)" font-family="Liberation Sans, sans-serif" font-weight="bold" font-size="60" fill="#000">Surface Albedo</text>
</g>
</g>
</svg></body></html>
